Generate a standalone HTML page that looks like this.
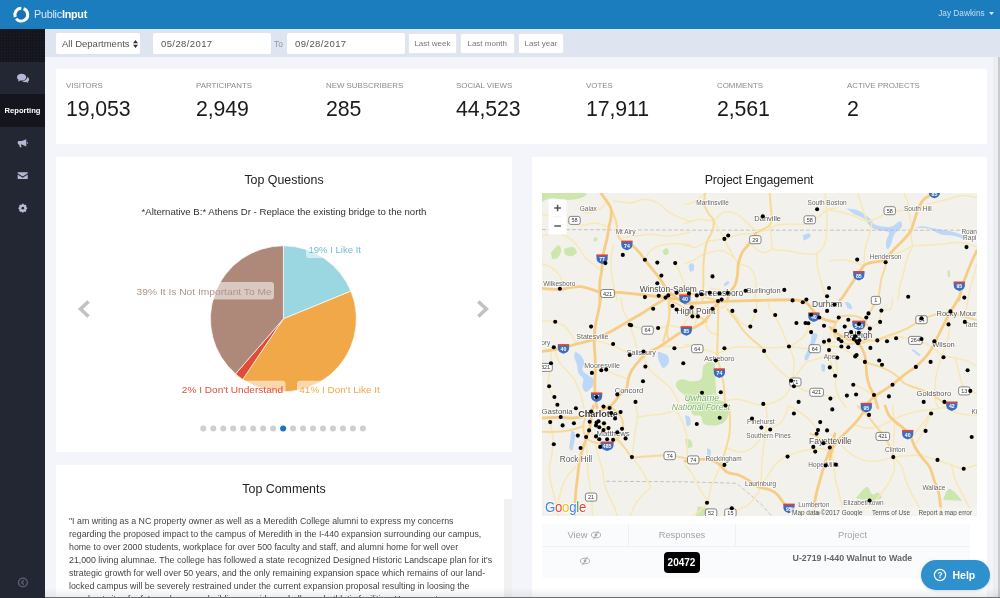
<!DOCTYPE html>
<html lang="en">
<head>
<meta charset="utf-8">
<title>PublicInput Reporting</title>
<style>
*{box-sizing:border-box;margin:0;padding:0}
html,body{width:1000px;height:598px;overflow:hidden}
body{position:relative;background:#f3f5fa;font-family:"Liberation Sans",sans-serif;color:#222}
.abs{position:absolute}
#topbar{left:0;top:0;width:1000px;height:29px;background:#1b7cbe}
#brand{left:34px;top:7.8px;color:#d6e9f6;font-size:10.8px;letter-spacing:-0.25px;white-space:nowrap}
#brand b{font-weight:bold;color:#fff}
#user{right:6.5px;top:8px;color:#bfdef5;font-size:8.3px;white-space:nowrap}
#sidebar{left:0;top:29px;width:45px;height:569px;background:#232633}
#sidetop{left:0;top:0;width:45px;height:33px;background:#15161d;background-image:radial-gradient(#1e202b 0.7px,transparent 0.9px);background-size:3px 3px}
#sideactive{left:0;top:64.5px;width:45px;height:33px;background:#15161d;color:#fff;font-size:7.6px;font-weight:bold;text-align:center;line-height:33px}
#filterbar{left:45px;top:29px;width:955px;height:28.2px;background:#dfe5f0}
.inp{background:#fff;border-radius:2px;height:21px;top:33px;font-size:9.5px;color:#555;line-height:21px;padding-left:6px;white-space:nowrap}
.date{letter-spacing:0.4px;padding-left:8px}
.btn{background:#fff;border-radius:2px;height:21px;top:33px;font-size:8px;color:#777;line-height:20px;text-align:center;white-space:nowrap;border:1px solid #e4e7ec}
.card{background:#fff}
.stat{top:12.5px;white-space:nowrap}
.stat .l{font-size:7.9px;color:#8a8a8a}
.stat .n{font-size:21.3px;color:#1a1a1a;margin-top:6.5px;letter-spacing:-0.1px}
.title{font-size:12.4px;color:#222;text-align:center;white-space:nowrap}
.sub{font-size:9.6px;color:#333;text-align:center;white-space:nowrap}
.cm{left:69px;top:514.6px;font-size:8.8px;line-height:13.1px;color:#444;white-space:nowrap}
.th{top:524px;height:22px;background:#fafbfc;color:#a3a3a3;font-size:9.3px;text-align:center;line-height:22px}
</style>
</head>
<body>
<div id="topbar" class="abs">
  <svg class="abs" style="left:12px;top:5.5px" width="18" height="18" viewBox="0 0 18 18">
    <circle cx="9.3" cy="8.7" r="6.4" fill="#1871b2"/>
    <path d="M11.6 2.75 A6.4 6.4 0 0 1 12.4 14.3 A6.4 6.4 0 0 1 4.2 12.6" fill="none" stroke="#fff" stroke-width="3"/>
    <path d="M3.3 10.9 A6.4 6.4 0 0 1 9.3 2.3" fill="none" stroke="#fff" stroke-width="3"/>
  </svg>
  <div id="brand" class="abs">Public<b>Input</b></div>
  <div id="user" class="abs">Jay Dawkins <svg width="5" height="3.2" viewBox="0 0 5 3.2" style="margin-left:1.5px;vertical-align:1px"><path d="M0 0 H5 L2.5 3.2 Z" fill="#cfe6f7"/></svg></div>
</div>
<div id="sidebar" class="abs">
  <div id="sidetop" class="abs"></div>
  <div id="sideactive" class="abs">Reporting</div>
  <svg class="abs" style="left:0;top:0" width="45" height="569" viewBox="0 29 45 569">
    <g fill="#b3b8d2">
      <!-- comments -->
      <path d="M17 77.2 c0 -2 2 -3.4 4.6 -3.4 s4.6 1.4 4.6 3.4 s-2 3.4 -4.6 3.4 c-0.5 0 -1 0 -1.4 -0.15 l-2.2 1.2 l0.6 -1.9 c-1 -0.6 -1.6 -1.5 -1.6 -2.55 Z"/>
      <path d="M27.3 77 c1.1 0.5 1.8 1.4 1.8 2.4 c0 0.9 -0.5 1.6 -1.3 2.1 l0.5 1.6 l-1.9 -1 c-0.4 0.1 -0.8 0.1 -1.2 0.1 c-1.3 0 -2.4 -0.4 -3.1 -1.1 c3 -0.1 5.2 -1.8 5.2 -4.1 Z"/>
      <!-- bullhorn -->
      <path transform="translate(22.6 143.3) scale(0.8) translate(-22.4 -143.3)" d="M27 138.2 v9.2 l-5.6 -2.6 h-1.2 l1 3.4 h-2.2 l-1 -3.4 h-0.6 c-0.6 0 -1 -0.5 -1 -1 v-2.4 c0 -0.6 0.4 -1 1 -1 h4 Z M27.8 141.4 c0.7 0.2 1.1 0.8 1.1 1.4 s-0.4 1.2 -1.1 1.4 Z"/>
      <!-- envelope -->
      <path transform="translate(22.7 175.6) scale(0.8) translate(-22.6 -175.55)" d="M16.3 171.3 h12.6 v1.3 l-6.3 4.2 l-6.3 -4.2 Z M16.3 174.1 l6.3 4.2 l6.3 -4.2 v5.7 h-12.6 Z"/>
    </g>
    <!-- cog -->
    <g transform="translate(22.8 208.2) scale(0.78)">
      <circle r="3.5" fill="none" stroke="#b9bed6" stroke-width="2.4"/>
      <g stroke="#b9bed6" stroke-width="2.1">
        <path d="M0 -5.6 V5.6 M-5.6 0 H5.6 M-4 -4 L4 4 M-4 4 L4 -4"/>
      </g>
      <circle r="1.7" fill="#232633"/>
    </g>
    <g transform="translate(22.9 582.5)" stroke="#5d6176" fill="none">
      <circle r="4.4" stroke-width="1.3"/>
      <path d="M1 -2.2 L-1.3 0 L1 2.2" stroke-width="1.3"/>
    </g>
  </svg>
</div>
<div id="filterbar" class="abs"></div>
<div class="abs inp" style="left:56px;width:84px">All Departments <svg width="5" height="8" viewBox="0 0 5 8" style="margin-left:1px;vertical-align:-0.5px"><path d="M2.5 0 L5 3.2 H0 Z M2.5 8 L5 4.8 H0 Z" fill="#333"/></svg></div>
<div class="abs inp date" style="left:153px;width:118px">05/28/2017</div>
<div class="abs" style="left:274px;top:38.5px;font-size:8.5px;color:#8d96a3">To</div>
<div class="abs inp date" style="left:287px;width:118px">09/28/2017</div>
<div class="abs btn" style="left:407.8px;width:49.2px">Last week</div>
<div class="abs btn" style="left:460px;width:54.5px">Last month</div>
<div class="abs btn" style="left:517.6px;width:46.6px">Last year</div>
<div class="abs" style="left:993px;top:57px;width:7px;height:541px;background:#eceef2"></div>
<div class="abs" style="left:997.6px;top:57px;width:2.4px;height:541px;background:#c9cacd"></div>

<div class="abs card" style="left:56px;top:68.5px;width:931px;height:75.5px">
  <div class="abs stat" style="left:10px"><div class="l">VISITORS</div><div class="n">19,053</div></div>
  <div class="abs stat" style="left:140px"><div class="l">PARTICIPANTS</div><div class="n">2,949</div></div>
  <div class="abs stat" style="left:270px"><div class="l">NEW SUBSCRIBERS</div><div class="n">285</div></div>
  <div class="abs stat" style="left:400px"><div class="l">SOCIAL VIEWS</div><div class="n">44,523</div></div>
  <div class="abs stat" style="left:530px"><div class="l">VOTES</div><div class="n">17,911</div></div>
  <div class="abs stat" style="left:661px"><div class="l">COMMENTS</div><div class="n">2,561</div></div>
  <div class="abs stat" style="left:791px"><div class="l">ACTIVE PROJECTS</div><div class="n">2</div></div>
</div>

<div class="abs card" style="left:56px;top:157px;width:456px;height:295px"></div>
<div class="abs title" style="left:56px;width:456px;top:173px">Top Questions</div>
<div class="abs sub" style="left:56px;width:456px;top:205.5px">*Alternative B:* Athens Dr - Replace the existing bridge to the north</div>
<svg class="abs" style="left:56px;top:157px" width="456" height="295" viewBox="56 157 456 295">
<path d="M283.4 318.8 L283.40 245.80 A73 73 0 0 1 350.95 291.13 Z" fill="#9bd7e1" stroke="#fff" stroke-width="0.7"/>
<path d="M283.4 318.8 L350.95 291.13 A73 73 0 0 1 242.73 379.42 Z" fill="#f0a848" stroke="#fff" stroke-width="0.7"/>
<path d="M283.4 318.8 L242.73 379.42 A73 73 0 0 1 235.52 373.90 Z" fill="#e24c36" stroke="#fff" stroke-width="0.7"/>
<path d="M283.4 318.8 L235.52 373.90 A73 73 0 0 1 283.40 245.80 Z" fill="#ae8878" stroke="#fff" stroke-width="0.7"/>
<rect x="306" y="240.4" width="58" height="17.6" rx="3" fill="#fff" fill-opacity="0.55"/>
<text x="308.5" y="252.9" font-size="9.8" fill="#6fbdd3" textLength="52.5" lengthAdjust="spacingAndGlyphs">19% I Like It</text>
<rect x="133" y="282" width="141" height="17.6" rx="3" fill="#fff" fill-opacity="0.55"/>
<text x="136.6" y="294.5" font-size="9.8" fill="#b09486" textLength="135.1" lengthAdjust="spacingAndGlyphs">39% It Is Not Important To Me</text>
<rect x="179" y="380.7" width="106.5" height="17.6" rx="3" fill="#fff" fill-opacity="0.55"/>
<text x="181.8" y="393.2" font-size="9.8" fill="#e0503c" textLength="101.2" lengthAdjust="spacingAndGlyphs">2% I Don't Understand</text>
<rect x="297" y="380.7" width="86" height="17.6" rx="3" fill="#fff" fill-opacity="0.55"/>
<text x="299.3" y="393.2" font-size="9.8" fill="#f0a848" textLength="80.6" lengthAdjust="spacingAndGlyphs">41% I Don't Like It</text>
<path d="M88.5 301.5 L80.5 309 L88.5 316.5" stroke="#c2c2c2" stroke-width="3.6" fill="none"/>
<path d="M478.3 301.5 L486.3 309 L478.3 316.5" stroke="#c2c2c2" stroke-width="3.6" fill="none"/>
<circle cx="203.3" cy="428.6" r="3" fill="#cfcfcf"/>
<circle cx="213.275" cy="428.6" r="3" fill="#cfcfcf"/>
<circle cx="223.25" cy="428.6" r="3" fill="#cfcfcf"/>
<circle cx="233.225" cy="428.6" r="3" fill="#cfcfcf"/>
<circle cx="243.2" cy="428.6" r="3" fill="#cfcfcf"/>
<circle cx="253.175" cy="428.6" r="3" fill="#cfcfcf"/>
<circle cx="263.15" cy="428.6" r="3" fill="#cfcfcf"/>
<circle cx="273.125" cy="428.6" r="3" fill="#cfcfcf"/>
<circle cx="283.1" cy="428.6" r="3" fill="#1b75bb"/>
<circle cx="293.075" cy="428.6" r="3" fill="#cfcfcf"/>
<circle cx="303.05" cy="428.6" r="3" fill="#cfcfcf"/>
<circle cx="313.025" cy="428.6" r="3" fill="#cfcfcf"/>
<circle cx="323" cy="428.6" r="3" fill="#cfcfcf"/>
<circle cx="332.975" cy="428.6" r="3" fill="#cfcfcf"/>
<circle cx="342.95" cy="428.6" r="3" fill="#cfcfcf"/>
<circle cx="352.925" cy="428.6" r="3" fill="#cfcfcf"/>
<circle cx="362.9" cy="428.6" r="3" fill="#cfcfcf"/>
</svg>

<div class="abs card" style="left:56px;top:465px;width:456px;height:133px"></div>
<div class="abs title" style="left:56px;width:456px;top:482px">Top Comments</div>
<div class="abs" style="left:504px;top:499px;width:8px;height:99px;background:#f1f1f1"></div>
<div class="abs cm">"I am writing as a NC property owner as well as a Meredith College alumni to express my concerns<br>regarding the proposed impact to the campus of Meredith in the I-440 expansion surrounding our campus,<br>home to over 2000 students, workplace for over 500 faculty and staff, and alumni home for well over<br>21,000 living alumnae. The college has followed a state recognized Designed Historic Landscape plan for it's<br>strategic growth for well over 50 years, and the only remaining expansion space which remains of our land-<br>locked campus will be severely restrained under the current expansion proposal resulting in loosing the<br>very best sites for future classroom buildings, residence halls, and athletic facilities. Your report</div>

<div class="abs card" style="left:531.5px;top:157px;width:455.5px;height:441px"></div>
<div class="abs title" style="left:531px;width:456px;top:173px;letter-spacing:-0.2px">Project Engagement</div>
<svg class="abs" style="left:542px;top:193px" width="435" height="323" viewBox="542 193 435 323">
<rect x="542" y="193" width="435" height="323" fill="#f3f1ec"/>
<path d="M703.1 365.9 C704.0 365.3 706.6 362.9 708.5 362.5 C710.4 362.1 713.2 361.6 714.3 363.7 C715.4 365.8 714.9 371.0 715.2 375.1 C715.5 379.2 715.6 384.5 716 388.4 C716.4 392.3 715.9 396.0 717.7 398.5 C719.5 401.0 725.0 401.4 726.9 403.5 C728.8 405.6 729.0 408.2 728.9 411 C728.8 413.8 728.0 417.8 726 420.2 C724.0 422.6 720.5 424.6 716.8 425.2 C713.1 425.8 706.4 425.4 703.8 423.9 C701.1 422.4 702.6 417.5 700.9 416 C699.2 414.5 695.3 416.4 693.4 414.9 C691.5 413.4 690.6 409.9 689.2 406.8 C687.8 403.7 686.9 398.8 685.1 396 C683.3 393.2 679.9 392.2 678.4 390.1 C676.9 388.0 675.3 385.2 675.9 383.4 C676.5 381.6 679.1 379.5 681.7 379.2 C684.4 378.9 688.6 381.4 691.8 381.4 C695.0 381.4 699.1 380.8 700.9 379.2 C702.7 377.6 702.3 372.9 702.6 371.7 Z" fill="#cde6ae"/>
<path d="M541.8 192.8 C548.7 192.8 576.5 192.0 583.3 192.8 C590.0 193.6 584.9 196.2 582.3 197.4 C579.7 198.6 572.8 199.9 567.6 200.1 C562.4 200.2 555.3 198.0 551 198.3 C546.7 198.6 543.3 201.4 541.8 202 Z" fill="#cde6ae"/>
<path d="M551 252.6 C552.2 251.4 556.7 245.5 558.4 245.2 C560.1 244.9 561.4 248.5 561.2 250.7 C561.1 252.8 559.0 256.7 557.5 258.1 C556.0 259.5 552.9 258.9 552 259 Z" fill="#cde6ae"/>
<path d="M563.9 248.9 C565.4 248.6 571.0 246.5 573.1 247.1 C575.2 247.7 577.1 251.1 576.8 252.6 C576.5 254.1 573.3 256.0 571.3 256.3 C569.3 256.6 565.9 254.7 564.8 254.4 Z" fill="#cde6ae"/>
<path d="M662.4 250.7 C663.2 250.2 665.9 247.5 667 248 C668.1 248.5 669.3 252.3 668.8 253.5 C668.3 254.7 665.0 255.0 664.2 255.3 Z" fill="#cde6ae"/>
<path d="M594.3 236.9 C594.8 237.1 597.1 237.4 597.4 238.2 C597.7 239.0 596.8 241.1 596.1 241.5 C595.4 241.9 593.9 240.8 593.4 240.6 Z" fill="#cde6ae"/>
<path d="M846.6 208.4 C848.4 208.7 853.9 208.7 857.6 210.2 C861.3 211.7 865.6 215.1 868.7 217.6 C871.8 220.1 872.3 223.5 876 225 C879.7 226.5 886.7 227.4 890.7 226.8 C894.7 226.2 898.0 221.3 899.9 221.3 C901.8 221.3 902.7 224.7 901.8 226.8 C900.9 229.0 896.2 231.1 894.4 234.2 C892.5 237.3 891.9 242.8 890.7 245.2 C889.5 247.6 887.9 249.5 887.1 248.9 C886.3 248.3 885.8 244.3 886.1 241.5 C886.4 238.7 890.0 234.1 888.9 232.3 C887.8 230.5 882.8 231.4 879.7 230.5 C876.6 229.6 873.0 228.7 870.5 226.8 C868.0 225.0 867.8 221.6 865 219.4 C862.2 217.2 855.8 214.8 853.9 213.9 Z" fill="#bcd7f7"/>
<path d="M914.7 227.7 C917.2 227.9 925.1 227.6 929.4 228.7 C933.7 229.8 936.1 233.0 940.4 234.2 C944.7 235.4 950.9 235.1 955.2 236 C959.5 236.9 964.7 239.7 966.2 239.7 C967.7 239.7 966.9 237.4 964.4 236 C961.9 234.6 956.1 232.6 951.5 231.4 C946.9 230.2 941.7 229.6 936.8 228.7 C931.9 227.8 924.5 226.4 922 225.9 Z" fill="#bcd7f7"/>
<path d="M802.8 235.1 C803.9 234.8 808.0 233.0 809.2 233.3 C810.4 233.6 811.1 235.7 810.2 236.9 C809.3 238.1 804.8 240.0 803.7 240.6 Z" fill="#bcd7f7"/>
<path d="M689.6 263.6 C690.3 263.8 693.2 263.3 693.8 264.5 C694.4 265.7 694.0 270.1 693.3 271 C692.6 271.9 690.2 270.2 689.6 270.1 Z" fill="#bcd7f7"/>
<path d="M575 351.4 C575.9 352.0 579.0 353.3 580.5 355.1 C582.0 356.9 583.9 359.9 584.2 362.4 C584.5 364.8 581.7 367.6 582.3 369.8 C582.9 372.0 586.0 373.8 587.9 375.3 C589.8 376.8 592.6 377.2 593.4 379 C594.2 380.8 593.7 384.2 592.5 386.3 C591.3 388.4 587.7 391.9 586 391.9 C584.3 391.9 582.8 388.4 582.3 386.3 C581.8 384.2 583.9 381.1 583.3 379 C582.7 376.9 579.8 375.9 578.7 373.5 C577.6 371.1 577.6 367.1 576.8 364.3 C576.0 361.5 574.5 358.1 574.1 356.9 Z" fill="#bcd7f7"/>
<path d="M657.8 351.4 C659.3 352.0 665.2 353.3 667 355.1 C668.8 356.9 669.4 360.3 668.8 362.4 C668.2 364.5 664.8 367.9 663.3 367.9 C661.8 367.9 660.5 364.2 659.6 362.4 C658.7 360.6 658.1 357.8 657.8 356.9 Z" fill="#bcd7f7"/>
<path d="M812 333 C812.9 333.3 817.2 332.7 817.5 334.8 C817.8 336.9 815.0 342.5 813.8 345.9 C812.6 349.3 811.4 352.7 810.2 355.1 C809.0 357.6 807.4 360.3 806.5 360.6 C805.6 360.9 804.0 359.3 804.6 356.9 C805.2 354.4 809.3 347.7 810.2 345.9 Z" fill="#bcd7f7"/>
<path d="M821.2 364.3 C821.8 364.4 824.4 364.0 824.9 365.2 C825.4 366.4 825.0 370.7 824.5 371.6 C824.0 372.5 822.1 370.9 821.6 370.7 Z" fill="#bcd7f7"/>
<path d="M911.9 350.5 C912.2 350.3 912.3 348.8 913.7 349.5 C915.1 350.2 919.4 353.6 920.2 354.7 C921.0 355.8 919.0 355.8 918.7 356 Z" fill="#bcd7f7"/>
<path d="M844.7 301.7 C845.6 302.0 849.0 302.3 850.2 303.5 C851.4 304.7 852.6 308.2 852.1 309 C851.6 309.8 848.3 308.2 847.5 308.1 Z" fill="#bcd7f7"/>
<path d="M571.3 429.9 C571.9 430.5 574.5 431.5 575 433.6 C575.5 435.8 574.6 440.0 574.1 442.8 C573.6 445.6 573.0 449.3 572.2 450.2 C571.4 451.1 569.7 450.1 569.4 448.3 C569.1 446.5 570.2 440.6 570.4 439.1 Z" fill="#bcd7f7"/>
<path d="M685 415.2 C685.8 415.5 688.7 415.5 689.6 417 C690.5 418.5 691.0 422.9 690.5 424.4 C690.0 425.9 687.4 425.9 686.8 426.2 Z" fill="#bcd7f7"/>
<path d="M707.1 448.3 C707.7 448.6 710.3 448.7 710.8 450.2 C711.2 451.7 710.4 456.6 709.8 457.5 C709.2 458.4 707.5 456.0 707.1 455.7 Z" fill="#bcd7f7"/>
<path d="M685 439.1 C685.9 439.3 689.3 438.9 690.5 440.1 C691.7 441.3 693.0 445.1 692.4 446.5 C691.8 447.9 687.7 448.0 686.8 448.3 Z" fill="#cde6ae"/>
<path d="M697.9 506.3 C699.7 506.8 708.0 507.5 708.9 509.1 C709.8 510.7 705.5 514.9 703.4 516.1 C701.2 517.3 697.2 516.1 696 516.1 Z" fill="#cde6ae"/>
<path d="M855.8 498 C857.6 496.2 864.0 487.6 866.8 487 C869.5 486.4 870.4 493.4 872.3 494.3 C874.1 495.2 876.4 491.9 877.9 492.5 C879.4 493.1 882.7 496.5 881.5 498 C880.3 499.5 872.3 501.1 870.5 501.7 Z" fill="#cde6ae"/>
<path d="M943.2 499.9 C944.3 498.0 946.4 488.6 949.6 488.8 C952.8 489.0 960.4 498.8 962.5 500.8 Z" fill="#cde6ae"/>
<path d="M947.4 271 C947.8 270.9 949.2 269.7 949.6 270.6 C950.0 271.5 950.3 275.5 950 276.5 C949.7 277.5 948.2 276.5 947.8 276.5 Z" fill="#cde6ae"/>
<path d="M688.6 265.6 C689.3 265.2 692.0 262.8 692.8 263.5 C693.6 264.2 694.0 268.4 693.5 269.8 C693.0 271.2 690.6 271.5 690 271.9 Z" fill="#bcd7f7"/>
<path d="M723.6 284.5 C724.3 283.9 726.9 281.2 727.8 281 C728.7 280.8 729.7 282.2 729.2 283.1 C728.7 284.0 725.7 286.0 725 286.6 Z" fill="#bcd7f7"/>
<path d="M542 229.5 L700 230.2 L977 230.2" stroke="#b9b9b9" stroke-width="0.8" stroke-dasharray="4 2" fill="none"/>
<path d="M606 481.3 L685 481.8 L736.5 483.3 L747.6 492.5 L762.3 505.4 L771.5 516" stroke="#b9b9b9" stroke-width="0.8" stroke-dasharray="4 2" fill="none"/>
<path d="M613.6 245.2 C613.1 247.6 611.2 255.3 610.9 259.9 C610.6 264.5 611.3 268.5 611.8 272.8 C612.2 277.1 612.7 281.1 613.6 285.7 C614.5 290.2 616.7 297.7 617.3 300.1" stroke="#f7e8b6" stroke-width="1.5" fill="none" stroke-linecap="round" stroke-linejoin="round"/>
<path d="M541.8 236 C543.9 235.6 550.7 233.3 554.7 233.3 C558.7 233.3 562.1 234.0 565.8 236 C569.5 238.0 573.4 241.5 576.8 245.2 C580.2 248.9 582.9 254.7 586 258.1 C589.1 261.5 592.6 263.4 595.2 265.5 C597.8 267.6 600.6 270.1 601.7 271" stroke="#f7e8b6" stroke-width="1.5" fill="none" stroke-linecap="round" stroke-linejoin="round"/>
<path d="M578.7 208.4 C580.2 209.2 584.2 213.0 587.9 213 C591.6 213.0 597.3 210.7 600.7 208.4 C604.1 206.1 606.9 200.7 608.1 199.2" stroke="#f7e8b6" stroke-width="1.5" fill="none" stroke-linecap="round" stroke-linejoin="round"/>
<path d="M541.8 213.9 C543.9 214.5 550.4 216.4 554.7 217.6 C559.0 218.8 563.0 220.1 567.6 221.3 C572.2 222.5 577.7 224.7 582.3 225 C586.9 225.3 590.9 222.8 595.2 223.1 C599.5 223.4 606.0 226.2 608.1 226.8" stroke="#f7e8b6" stroke-width="1.5" fill="none" stroke-linecap="round" stroke-linejoin="round"/>
<path d="M613.6 201 C616.7 201.3 627.1 203.2 632 202.9 C636.9 202.6 638.8 199.2 643.1 199.2 C647.4 199.2 653.5 200.8 657.8 202.9 C662.1 205.1 665.1 209.7 668.8 212.1 C672.5 214.5 676.4 216.1 679.9 217.6 C683.4 219.1 688.3 220.7 690 221.3" stroke="#f7e8b6" stroke-width="1.5" fill="none" stroke-linecap="round" stroke-linejoin="round"/>
<path d="M541.8 263.6 C543.3 264.2 547.9 265.2 551 267.3 C554.1 269.4 558.1 272.8 560.2 276.5 C562.4 280.2 563.3 287.2 563.9 289.4" stroke="#f7e8b6" stroke-width="1.5" fill="none" stroke-linecap="round" stroke-linejoin="round"/>
<path d="M644.9 259.9 C645.8 258.4 647.6 253.1 650.4 250.7 C653.2 248.2 657.2 246.4 661.5 245.2 C665.8 244.0 671.5 243.4 676.2 243.4 C681.0 243.4 687.7 244.9 690 245.2" stroke="#f7e8b6" stroke-width="1.5" fill="none" stroke-linecap="round" stroke-linejoin="round"/>
<path d="M675.3 262.7 C676.1 264.4 678.2 269.0 679.9 272.8 C681.6 276.6 683.7 282.0 685.4 285.7 C687.1 289.4 689.2 293.4 690 294.9" stroke="#f7e8b6" stroke-width="1.5" fill="none" stroke-linecap="round" stroke-linejoin="round"/>
<path d="M619.1 237.9 C621.9 237.6 630.5 236.6 635.7 236 C640.9 235.4 644.9 234.2 650.4 234.2 C655.9 234.2 662.2 236.3 668.8 236 C675.4 235.7 686.5 232.9 690 232.3" stroke="#f7e8b6" stroke-width="1.5" fill="none" stroke-linecap="round" stroke-linejoin="round"/>
<path d="M685 223.1 C687.5 222.5 695.0 219.8 699.7 219.4 C704.5 219.0 709.5 221.6 713.5 220.4 C717.5 219.2 719.9 213.2 723.7 212.1 C727.5 211.0 732.5 212.1 736.5 213.9 C740.5 215.7 744.5 220.5 747.6 223.1 C750.7 225.7 751.8 228.4 754.9 229.6 C758.0 230.8 762.3 231.3 766 230.5 C769.7 229.7 773.0 226.1 777 225 C781.0 223.9 785.3 224.2 789.9 224.1 C794.5 223.9 800.0 225.2 804.6 224.1 C809.2 223.0 813.8 219.9 817.5 217.6 C821.2 215.3 823.8 211.7 826.7 210.2 C829.6 208.7 833.6 208.7 835 208.4" stroke="#f7e8b6" stroke-width="1.5" fill="none" stroke-linecap="round" stroke-linejoin="round"/>
<path d="M713.5 220.4 C714.9 222.7 719.5 230.1 721.8 234.2 C724.1 238.3 725.1 241.2 727.3 245.2 C729.4 249.2 732.9 255.0 734.7 258.1 C736.6 261.2 737.8 262.7 738.4 263.6" stroke="#f7e8b6" stroke-width="1.5" fill="none" stroke-linecap="round" stroke-linejoin="round"/>
<path d="M685 245.2 C686.8 245.5 692.3 247.7 696 247.1 C699.7 246.5 702.3 242.9 707.1 241.5 C711.9 240.1 719.1 240.0 724.6 238.8 C730.1 237.6 735.0 235.1 740.2 234.2 C745.4 233.3 753.3 233.5 755.9 233.3" stroke="#f7e8b6" stroke-width="1.5" fill="none" stroke-linecap="round" stroke-linejoin="round"/>
<path d="M769.7 225 C770.0 227.2 770.9 233.9 771.5 237.9 C772.1 241.9 770.5 246.8 773.3 248.9 C776.1 251.0 783.2 249.9 788.1 250.7 C793.0 251.5 798.0 253.0 802.8 253.5 C807.5 254.0 812.9 255.2 816.6 253.5 C820.3 251.8 823.2 247.8 824.9 243.4 C826.6 239.0 826.4 232.3 826.7 226.8 C827.0 221.3 827.0 215.9 826.7 210.2 C826.4 204.5 825.2 195.7 824.9 192.8" stroke="#f7e8b6" stroke-width="1.5" fill="none" stroke-linecap="round" stroke-linejoin="round"/>
<path d="M816.6 253.5 C816.8 255.8 816.7 262.6 817.5 267.3 C818.3 272.1 819.7 276.5 821.2 282 C822.7 287.5 825.8 297.1 826.7 300.1" stroke="#f7e8b6" stroke-width="1.5" fill="none" stroke-linecap="round" stroke-linejoin="round"/>
<path d="M738.4 263.6 C740.2 264.2 746.6 265.2 749.4 267.3 C752.1 269.4 753.8 272.8 754.9 276.5 C756.0 280.2 755.9 285.5 755.9 289.4 C755.9 293.3 755.1 298.3 754.9 300.1" stroke="#f7e8b6" stroke-width="1.5" fill="none" stroke-linecap="round" stroke-linejoin="round"/>
<path d="M685 263.6 C686.5 263.0 691.1 261.4 694.2 259.9 C697.3 258.4 698.8 255.9 703.4 254.4 C708.0 252.9 716.6 250.1 721.8 250.7 C727.0 251.3 732.6 256.9 734.7 258.1" stroke="#f7e8b6" stroke-width="1.5" fill="none" stroke-linecap="round" stroke-linejoin="round"/>
<path d="M749.4 243.4 C751.5 244.9 758.3 251.7 762.3 252.6 C766.3 253.5 771.5 249.5 773.3 248.9" stroke="#f7e8b6" stroke-width="1.5" fill="none" stroke-linecap="round" stroke-linejoin="round"/>
<path d="M705.2 192.8 C703.7 194.2 699.4 199.0 696 201 C692.6 203.0 686.8 204.1 685 204.7" stroke="#f7e8b6" stroke-width="1.5" fill="none" stroke-linecap="round" stroke-linejoin="round"/>
<path d="M830 210.2 C831.8 210.5 837.0 211.2 841 212.1 C845.0 213.0 849.6 214.3 853.9 215.8 C858.2 217.3 862.8 221.0 866.8 221.3 C870.8 221.6 874.2 219.1 877.9 217.6 C881.6 216.1 884.6 213.3 888.9 212.1 C893.2 210.9 898.7 210.8 903.6 210.2 C908.5 209.6 913.4 209.6 918.3 208.4 C923.2 207.2 928.2 204.4 933.1 202.9 C938.0 201.4 942.9 200.4 947.8 199.2 C952.7 198.0 957.7 195.8 962.5 195.5 C967.3 195.2 974.3 197.1 976.7 197.4" stroke="#f7e8b6" stroke-width="1.5" fill="none" stroke-linecap="round" stroke-linejoin="round"/>
<path d="M887.1 257.2 C889.9 256.1 899.3 252.5 903.6 250.7 C907.9 248.8 909.1 247.0 912.8 246.1 C916.5 245.2 921.1 245.5 925.7 245.2 C930.3 244.9 935.5 244.8 940.4 244.3 C945.3 243.9 950.9 242.7 955.2 242.5 C959.5 242.3 962.6 242.6 966.2 243.4 C969.8 244.2 975.0 246.5 976.7 247.1" stroke="#f7e8b6" stroke-width="1.5" fill="none" stroke-linecap="round" stroke-linejoin="round"/>
<path d="M912.8 246.1 C912.5 244.4 911.3 239.8 911 236 C910.7 232.2 911.3 226.8 911 223.1 C910.7 219.4 909.7 217.6 909.1 213.9 C908.5 210.2 908.2 204.5 907.3 201 C906.4 197.5 904.2 194.2 903.6 192.8" stroke="#f7e8b6" stroke-width="1.5" fill="none" stroke-linecap="round" stroke-linejoin="round"/>
<path d="M912.8 246.1 C911.9 248.1 908.8 253.7 907.3 258.1 C905.8 262.6 904.8 268.2 903.6 272.8 C902.4 277.4 900.8 281.1 899.9 285.7 C899.0 290.2 898.4 297.7 898.1 300.1" stroke="#f7e8b6" stroke-width="1.5" fill="none" stroke-linecap="round" stroke-linejoin="round"/>
<path d="M872.3 221.3 C871.8 223.5 870.8 229.6 869.6 234.2 C868.4 238.8 865.9 243.7 865 248.9 C864.1 254.1 864.2 262.7 864.1 265.5" stroke="#f7e8b6" stroke-width="1.5" fill="none" stroke-linecap="round" stroke-linejoin="round"/>
<path d="M830 260.9 C832.5 260.7 840.1 259.4 844.7 259.9 C849.3 260.3 854.4 262.7 857.6 263.6 C860.8 264.5 863.0 265.2 864.1 265.5" stroke="#f7e8b6" stroke-width="1.5" fill="none" stroke-linecap="round" stroke-linejoin="round"/>
<path d="M976.7 263.6 C976.2 265.8 974.7 272.2 973.6 276.5 C972.5 280.8 970.8 285.5 969.9 289.4 C969.0 293.3 968.3 298.3 968 300.1" stroke="#f7e8b6" stroke-width="1.5" fill="none" stroke-linecap="round" stroke-linejoin="round"/>
<path d="M857.6 192.8 C858.2 194.8 859.8 199.9 861.3 204.7 C862.8 209.4 865.9 218.5 866.8 221.3" stroke="#f7e8b6" stroke-width="1.5" fill="none" stroke-linecap="round" stroke-linejoin="round"/>
<path d="M593.4 339.4 C595.2 340.0 601.0 342.0 604.4 343.1 C607.8 344.2 610.5 344.7 613.6 345.9 C616.7 347.1 619.7 349.3 622.8 350.5 C625.9 351.7 628.9 352.4 632 353.2 C635.1 354.0 639.7 354.8 641.2 355.1" stroke="#f7e8b6" stroke-width="1.5" fill="none" stroke-linecap="round" stroke-linejoin="round"/>
<path d="M621 298 C621.3 299.8 621.6 305.3 622.8 309 C624.0 312.7 626.8 316.4 628.3 320.1 C629.8 323.8 630.8 327.1 632 331.1 C633.2 335.1 634.5 340.0 635.7 344 C636.9 348.0 638.8 353.2 639.4 355.1" stroke="#f7e8b6" stroke-width="1.5" fill="none" stroke-linecap="round" stroke-linejoin="round"/>
<path d="M630.2 325.6 C632.4 326.1 638.5 327.9 643.1 328.4 C647.7 328.9 653.5 328.9 657.8 328.4 C662.1 327.9 665.1 325.8 668.8 325.6 C672.5 325.4 676.4 327.4 679.9 327.4 C683.4 327.4 688.3 325.9 690 325.6" stroke="#f7e8b6" stroke-width="1.5" fill="none" stroke-linecap="round" stroke-linejoin="round"/>
<path d="M541.8 320.1 C543.9 320.4 551.0 321.0 554.7 321.9 C558.4 322.8 561.1 323.5 563.9 325.6 C566.7 327.8 569.1 331.7 571.3 334.8 C573.4 337.9 575.9 342.5 576.8 344" stroke="#f7e8b6" stroke-width="1.5" fill="none" stroke-linecap="round" stroke-linejoin="round"/>
<path d="M551 351.4 C551.0 353.2 551.3 358.4 551 362.4 C550.7 366.4 549.7 371.3 549.2 375.3 C548.8 379.3 547.5 382.6 548.3 386.3 C549.1 390.0 552.3 394.3 553.8 397.4 C555.3 400.5 556.9 403.6 557.5 404.8" stroke="#f7e8b6" stroke-width="1.5" fill="none" stroke-linecap="round" stroke-linejoin="round"/>
<path d="M554.7 349.5 C555.3 351.4 556.2 356.9 558.4 360.6 C560.5 364.3 564.8 368.2 567.6 371.6 C570.4 375.0 572.9 377.1 575 380.8 C577.1 384.5 579.0 389.1 580.5 393.7 C582.0 398.2 583.6 405.7 584.2 408.1" stroke="#f7e8b6" stroke-width="1.5" fill="none" stroke-linecap="round" stroke-linejoin="round"/>
<path d="M643.1 355.1 C644.0 357.2 646.2 364.2 648.6 367.9 C651.0 371.6 654.4 374.0 657.8 377.1 C661.2 380.2 665.7 382.9 668.8 386.3 C671.9 389.7 674.4 393.8 676.2 397.4 C678.1 401.0 679.3 406.3 679.9 408.1" stroke="#f7e8b6" stroke-width="1.5" fill="none" stroke-linecap="round" stroke-linejoin="round"/>
<path d="M657.8 347.7 C659.6 347.4 665.1 345.9 668.8 345.9 C672.5 345.9 676.4 347.7 679.9 347.7 C683.4 347.7 688.3 346.2 690 345.9" stroke="#f7e8b6" stroke-width="1.5" fill="none" stroke-linecap="round" stroke-linejoin="round"/>
<path d="M594.3 369.8 C596.0 369.8 600.6 368.9 604.4 369.8 C608.2 370.7 613.3 373.8 617.3 375.3 C621.3 376.8 626.5 378.4 628.3 379" stroke="#f7e8b6" stroke-width="1.5" fill="none" stroke-linecap="round" stroke-linejoin="round"/>
<path d="M762.3 347.7 C762.9 348.9 764.2 352.3 766 355.1 C767.8 357.9 770.8 361.6 773.3 364.3 C775.8 367.1 777.9 369.2 780.7 371.6 C783.5 374.1 787.5 376.9 789.9 379 C792.3 381.1 793.2 382.7 795.4 384.5 C797.5 386.3 799.1 388.5 802.8 390 C806.5 391.5 812.1 392.5 817.5 393.7 C822.9 394.9 832.1 396.8 835 397.4" stroke="#f7e8b6" stroke-width="1.5" fill="none" stroke-linecap="round" stroke-linejoin="round"/>
<path d="M685 344 C687.1 344.6 693.6 346.5 697.9 347.7 C702.2 348.9 707.4 350.5 710.8 351.4 C714.2 352.3 714.7 353.8 718.1 353.2 C721.5 352.6 726.7 348.8 731 347.7 C735.3 346.6 738.7 346.8 743.9 346.8 C749.1 346.8 756.8 347.6 762.3 347.7 C767.8 347.8 772.5 347.8 777 347.7 C781.5 347.6 785.3 346.8 789 346.8 C792.7 346.8 795.3 347.4 799.1 347.7 C802.9 348.0 807.7 349.2 812 348.6 C816.3 348.0 821.1 345.1 824.9 344 C828.7 342.9 833.3 342.5 835 342.2" stroke="#f7e8b6" stroke-width="1.5" fill="none" stroke-linecap="round" stroke-linejoin="round"/>
<path d="M789 346.8 C789.8 348.8 792.8 354.6 793.6 358.7 C794.4 362.8 793.8 368.2 793.6 371.6 C793.5 375.0 792.9 377.8 792.7 379" stroke="#f7e8b6" stroke-width="1.5" fill="none" stroke-linecap="round" stroke-linejoin="round"/>
<path d="M792.7 379 C793.8 377.8 796.8 374.4 799.1 371.6 C801.4 368.8 803.4 364.5 806.5 362.4 C809.6 360.2 813.8 359.9 817.5 358.7 C821.2 357.5 825.7 356.0 828.6 355.1 C831.5 354.2 833.9 353.5 835 353.2" stroke="#f7e8b6" stroke-width="1.5" fill="none" stroke-linecap="round" stroke-linejoin="round"/>
<path d="M792.7 379 C791.9 381.1 790.1 388.5 788.1 391.9 C786.1 395.3 783.8 397.2 780.7 399.2 C777.6 401.2 773.4 402.9 769.7 403.8 C766.0 404.7 762.6 405.2 758.6 404.8 C754.6 404.4 749.4 402.0 745.7 401.1 C742.0 400.2 740.0 399.2 736.5 399.2 C733.0 399.2 726.6 400.8 724.6 401.1" stroke="#f7e8b6" stroke-width="1.5" fill="none" stroke-linecap="round" stroke-linejoin="round"/>
<path d="M789 346.8 C790.7 345.7 796.2 342.6 799.1 340.3 C802.0 338.0 804.6 335.8 806.5 333 C808.4 330.2 809.0 326.6 810.2 323.8 C811.4 321.0 813.2 317.6 813.8 316.4" stroke="#f7e8b6" stroke-width="1.5" fill="none" stroke-linecap="round" stroke-linejoin="round"/>
<path d="M767.8 300.2 C768.1 301.7 768.5 306.3 769.7 309 C770.9 311.7 773.4 313.3 775.2 316.4 C777.0 319.5 779.0 323.7 780.7 327.4 C782.4 331.1 783.9 335.3 785.3 338.5 C786.7 341.7 788.4 345.4 789 346.8" stroke="#f7e8b6" stroke-width="1.5" fill="none" stroke-linecap="round" stroke-linejoin="round"/>
<path d="M756.8 300.8 C756.6 302.5 757.1 306.8 755.9 310.9 C754.7 315.0 752.0 323.8 749.4 325.6 C746.8 327.4 743.0 324.2 740.2 321.9 C737.5 319.6 734.1 313.5 732.9 311.8" stroke="#f7e8b6" stroke-width="1.5" fill="none" stroke-linecap="round" stroke-linejoin="round"/>
<path d="M685 316.4 C687.1 316.4 694.5 315.5 697.9 316.4 C701.3 317.3 703.4 319.4 705.2 321.9 C707.0 324.3 706.8 329.0 708.9 331.1 C711.0 333.2 716.3 334.2 717.8 334.8" stroke="#f7e8b6" stroke-width="1.5" fill="none" stroke-linecap="round" stroke-linejoin="round"/>
<path d="M835 321.9 C834.2 324.0 831.5 329.9 830.4 334.8 C829.3 339.7 828.3 345.9 828.6 351.4 C828.9 356.9 831.1 363.9 832.2 367.9 C833.3 371.9 834.5 374.1 835 375.3" stroke="#f7e8b6" stroke-width="1.5" fill="none" stroke-linecap="round" stroke-linejoin="round"/>
<path d="M692.4 307.2 C693.0 309.0 696.0 314.5 696 318.2 C696.0 321.9 694.2 326.8 692.4 329.3 C690.6 331.8 686.2 332.4 685 333" stroke="#f7e8b6" stroke-width="1.5" fill="none" stroke-linecap="round" stroke-linejoin="round"/>
<path d="M876 340.3 C878.1 339.9 884.9 338.2 888.9 337.6 C892.9 337.0 896.2 336.4 899.9 336.7 C903.6 337.0 907.3 338.5 911 339.4 C914.7 340.3 918.3 340.8 922 342.2 C925.7 343.6 929.7 345.5 933.1 347.7 C936.5 349.9 938.6 353.4 942.3 355.1 C946.0 356.8 951.2 356.9 955.2 357.8 C959.2 358.7 962.6 359.2 966.2 360.6 C969.8 362.0 975.0 365.2 976.7 366.1" stroke="#f7e8b6" stroke-width="1.5" fill="none" stroke-linecap="round" stroke-linejoin="round"/>
<path d="M942.3 355.1 C941.7 356.9 939.7 362.4 938.6 366.1 C937.5 369.8 936.4 373.1 935.8 377.1 C935.2 381.1 934.9 386.0 934.9 390 C934.9 394.0 935.2 398.1 935.8 401.1 C936.4 404.1 938.1 406.9 938.6 408.1" stroke="#f7e8b6" stroke-width="1.5" fill="none" stroke-linecap="round" stroke-linejoin="round"/>
<path d="M947.8 316.4 C948.1 317.9 949.6 321.9 949.6 325.6 C949.6 329.3 948.7 334.5 947.8 338.5 C946.9 342.5 945.0 346.7 944.1 349.5 C943.2 352.3 942.6 354.2 942.3 355.1" stroke="#f7e8b6" stroke-width="1.5" fill="none" stroke-linecap="round" stroke-linejoin="round"/>
<path d="M835.5 358.7 C835.8 360.9 837.4 367.3 837.4 371.6 C837.4 375.9 835.2 380.2 835.5 384.5 C835.8 388.8 837.4 393.5 839.2 397.4 C841.1 401.3 845.4 406.3 846.6 408.1" stroke="#f7e8b6" stroke-width="1.5" fill="none" stroke-linecap="round" stroke-linejoin="round"/>
<path d="M853.9 384.5 C855.8 385.4 861.6 388.1 865 390 C868.4 391.9 872.7 394.7 874.2 395.6" stroke="#f7e8b6" stroke-width="1.5" fill="none" stroke-linecap="round" stroke-linejoin="round"/>
<path d="M962.5 316.4 C963.1 315.2 965.3 312.1 966.2 309 C967.1 305.9 967.7 299.8 968 298" stroke="#f7e8b6" stroke-width="1.5" fill="none" stroke-linecap="round" stroke-linejoin="round"/>
<path d="M955.2 357.8 C955.8 360.1 957.6 367.2 958.8 371.6 C960.0 376.1 960.6 381.3 962.5 384.5 C964.4 387.7 967.5 389.5 969.9 391 C972.3 392.5 975.6 393.2 976.7 393.7" stroke="#f7e8b6" stroke-width="1.5" fill="none" stroke-linecap="round" stroke-linejoin="round"/>
<path d="M830 345.9 C831.8 346.2 837.6 346.5 841 347.7 C844.4 348.9 847.9 351.8 850.2 353.2 C852.5 354.6 852.3 354.5 854.8 356 C857.3 357.5 863.3 361.1 865 362.1" stroke="#f7e8b6" stroke-width="1.5" fill="none" stroke-linecap="round" stroke-linejoin="round"/>
<path d="M892.6 298 C892.3 299.8 892.6 306.9 890.7 309 C888.9 311.1 883.4 308.4 881.5 310.5 C879.6 312.6 881.1 318.9 879.1 321.9 C877.1 324.9 871.2 327.3 869.6 328.4" stroke="#f7e8b6" stroke-width="1.5" fill="none" stroke-linecap="round" stroke-linejoin="round"/>
<path d="M632 457.2 C633.2 458.8 637.1 463.3 639.4 466.7 C641.7 470.1 644.0 474.4 645.8 477.8 C647.6 481.2 650.8 484.2 650.4 487 C650.0 489.8 645.5 491.5 643.1 494.3 C640.7 497.1 637.9 500.0 635.7 503.6 C633.6 507.2 631.1 514.0 630.2 516.1" stroke="#f7e8b6" stroke-width="1.5" fill="none" stroke-linecap="round" stroke-linejoin="round"/>
<path d="M632 457.2 C632.3 454.8 633.3 447.6 633.9 442.8 C634.5 438.0 635.1 432.4 635.7 428.1 C636.3 423.8 637.6 420.7 637.6 417 C637.6 413.3 636.0 407.8 635.7 406" stroke="#f7e8b6" stroke-width="1.5" fill="none" stroke-linecap="round" stroke-linejoin="round"/>
<path d="M637.6 417 C639.7 416.7 645.8 415.8 650.4 415.2 C655.0 414.6 660.9 414.3 665.2 413.4 C669.5 412.5 674.4 410.3 676.2 409.7" stroke="#f7e8b6" stroke-width="1.5" fill="none" stroke-linecap="round" stroke-linejoin="round"/>
<path d="M589.7 428.1 C590.6 430.6 593.7 437.9 595.2 442.8 C596.7 447.7 597.7 452.9 598.9 457.5 C600.1 462.1 601.7 466.1 602.6 470.4 C603.5 474.7 603.5 479.3 604.4 483.3 C605.3 487.3 606.6 490.6 608.1 494.3 C609.6 498.0 612.1 501.8 613.6 505.4 C615.1 509.0 616.7 514.3 617.3 516.1" stroke="#f7e8b6" stroke-width="1.5" fill="none" stroke-linecap="round" stroke-linejoin="round"/>
<path d="M586 439.1 C586.1 441.6 586.6 448.7 586.9 453.9 C587.2 459.1 587.4 465.2 587.9 470.4 C588.4 475.6 589.1 480.5 589.7 485.1 C590.3 489.7 591.0 492.8 591.5 498 C592.0 503.2 592.3 513.1 592.5 516.1" stroke="#f7e8b6" stroke-width="1.5" fill="none" stroke-linecap="round" stroke-linejoin="round"/>
<path d="M551 424.4 C551.3 426.8 552.7 434.2 552.9 439.1 C553.1 444.0 552.6 449.0 552 453.9 C551.4 458.8 549.4 463.7 549.2 468.6 C549.0 473.5 550.1 478.4 551 483.3 C551.9 488.2 553.5 492.5 554.7 498 C555.9 503.5 557.8 513.1 558.4 516.1" stroke="#f7e8b6" stroke-width="1.5" fill="none" stroke-linecap="round" stroke-linejoin="round"/>
<path d="M575.9 466.7 C574.5 468.2 569.9 472.5 567.6 475.9 C565.3 479.3 563.6 482.7 562.1 487 C560.6 491.3 559.0 499.2 558.4 501.7" stroke="#f7e8b6" stroke-width="1.5" fill="none" stroke-linecap="round" stroke-linejoin="round"/>
<path d="M676.2 409.7 C677.4 412.1 681.8 419.5 683.6 424.4 C685.4 429.3 686.6 433.9 687.2 439.1 C687.8 444.3 687.2 452.9 687.2 455.7" stroke="#f7e8b6" stroke-width="1.5" fill="none" stroke-linecap="round" stroke-linejoin="round"/>
<path d="M766 406 C766.1 407.8 766.9 413.0 766.9 417 C766.9 421.0 766.5 425.6 766 429.9 C765.5 434.2 764.7 438.2 764.1 442.8 C763.5 447.4 762.8 452.6 762.3 457.5 C761.8 462.4 761.7 467.4 761.4 472.3 C761.1 477.2 761.6 482.7 760.5 487 C759.4 491.3 757.4 494.8 754.9 498 C752.4 501.2 749.1 504.2 745.7 506.3 C742.3 508.4 738.7 509.3 734.7 510.9 C730.7 512.5 723.9 515.2 721.8 516.1" stroke="#f7e8b6" stroke-width="1.5" fill="none" stroke-linecap="round" stroke-linejoin="round"/>
<path d="M760.5 487 C761.7 485.1 765.3 479.6 767.8 475.9 C770.2 472.2 772.4 468.0 775.2 464.9 C778.0 461.8 781.0 459.5 784.4 457.5 C787.8 455.5 791.7 454.1 795.4 452.9 C799.1 451.7 802.8 451.0 806.5 450.2 C810.2 449.4 815.7 448.6 817.5 448.3" stroke="#f7e8b6" stroke-width="1.5" fill="none" stroke-linecap="round" stroke-linejoin="round"/>
<path d="M727.3 448.3 C729.4 448.9 736.2 452.0 740.2 452 C744.2 452.0 748.2 450.1 751.3 448.3 C754.4 446.5 756.5 443.4 758.6 441 C760.7 438.6 762.0 435.8 764.1 433.6 C766.2 431.5 768.7 429.9 771.5 428.1 C774.3 426.3 778.2 425.1 780.7 422.6 C783.2 420.2 785.0 416.2 786.2 413.4 C787.4 410.6 787.8 407.2 788.1 406" stroke="#f7e8b6" stroke-width="1.5" fill="none" stroke-linecap="round" stroke-linejoin="round"/>
<path d="M720 464.9 C719.4 466.7 717.8 472.2 716.3 475.9 C714.8 479.6 712.2 482.7 710.8 487 C709.4 491.3 709.5 498.0 708 501.7 C706.5 505.4 704.2 506.7 701.6 509.1 C699.0 511.5 693.9 514.9 692.4 516.1" stroke="#f7e8b6" stroke-width="1.5" fill="none" stroke-linecap="round" stroke-linejoin="round"/>
<path d="M685 464.9 C686.2 466.4 689.9 470.1 692.4 474.1 C694.9 478.1 697.1 484.2 699.7 488.8 C702.3 493.4 706.6 499.6 708 501.7" stroke="#f7e8b6" stroke-width="1.5" fill="none" stroke-linecap="round" stroke-linejoin="round"/>
<path d="M788.1 406 C789.9 406.9 795.4 409.1 799.1 411.5 C802.8 413.9 807.1 417.6 810.2 420.7 C813.3 423.8 816.3 428.4 817.5 429.9" stroke="#f7e8b6" stroke-width="1.5" fill="none" stroke-linecap="round" stroke-linejoin="round"/>
<path d="M817.5 448.3 C819.6 448.6 827.5 449.6 830.4 450.2 C833.3 450.8 834.2 451.7 835 452" stroke="#f7e8b6" stroke-width="1.5" fill="none" stroke-linecap="round" stroke-linejoin="round"/>
<path d="M788.1 509.1 C789.9 509.6 794.8 510.6 799.1 511.8 C803.4 513.0 811.3 515.4 813.8 516.1" stroke="#f7e8b6" stroke-width="1.5" fill="none" stroke-linecap="round" stroke-linejoin="round"/>
<path d="M911 437.3 C911.9 436.4 914.7 434.0 916.5 431.8 C918.3 429.6 920.1 426.9 922 424.4 C923.9 421.9 926.1 419.4 927.6 417 C929.1 414.6 930.6 410.9 931.2 409.7" stroke="#f7e8b6" stroke-width="1.5" fill="none" stroke-linecap="round" stroke-linejoin="round"/>
<path d="M853.9 424.4 C856.0 425.0 862.5 427.8 866.8 428.1 C871.1 428.4 875.7 427.4 879.7 426.2 C883.7 425.0 886.7 422.5 890.7 420.7 C894.7 418.9 899.3 416.7 903.6 415.2 C907.9 413.7 911.9 412.4 916.5 411.5 C921.1 410.6 926.6 410.3 931.2 409.7 C935.8 409.1 939.5 407.2 944.1 407.8 C948.7 408.4 953.4 412.2 958.8 413.4 C964.2 414.6 973.7 414.9 976.7 415.2" stroke="#f7e8b6" stroke-width="1.5" fill="none" stroke-linecap="round" stroke-linejoin="round"/>
<path d="M830 433.6 C831.5 435.1 836.1 439.7 839.2 442.8 C842.3 445.9 844.7 449.2 848.4 452 C852.1 454.8 856.7 457.9 861.3 459.4 C865.9 460.9 870.6 461.6 876 461.2 C881.4 460.8 888.3 458.1 893.5 457.2 C898.7 456.3 902.5 455.9 907.3 455.7 C912.0 455.4 916.9 454.9 922 455.7 C927.1 456.5 932.8 458.8 937.7 460.3 C942.6 461.8 947.2 463.5 951.5 464.9 C955.8 466.3 959.2 468.6 963.4 468.6 C967.6 468.6 974.5 465.5 976.7 464.9" stroke="#f7e8b6" stroke-width="1.5" fill="none" stroke-linecap="round" stroke-linejoin="round"/>
<path d="M893.5 457.2 C893.6 459.1 894.9 464.9 894.4 468.6 C893.9 472.3 892.5 475.9 890.7 479.6 C888.9 483.3 885.9 487.3 883.4 490.7 C880.9 494.1 878.3 497.4 876 499.9 C873.7 502.3 872.4 502.7 869.6 505.4 C866.8 508.1 861.1 514.3 859.4 516.1" stroke="#f7e8b6" stroke-width="1.5" fill="none" stroke-linecap="round" stroke-linejoin="round"/>
<path d="M893.5 457.2 C894.9 458.8 899.8 463.0 901.8 466.7 C903.8 470.4 904.0 475.3 905.5 479.6 C907.0 483.9 908.9 488.2 911 492.5 C913.1 496.8 916.5 501.5 918.3 505.4 C920.1 509.3 921.4 514.3 922 516.1" stroke="#f7e8b6" stroke-width="1.5" fill="none" stroke-linecap="round" stroke-linejoin="round"/>
<path d="M831.8 450.2 C832.1 452.6 833.1 460.0 833.7 464.9 C834.3 469.8 834.6 474.7 835.5 479.6 C836.4 484.5 838.0 489.4 839.2 494.3 C840.4 499.2 842.0 505.5 842.9 509.1 C843.8 512.7 844.4 514.9 844.7 516.1" stroke="#f7e8b6" stroke-width="1.5" fill="none" stroke-linecap="round" stroke-linejoin="round"/>
<path d="M892.6 406 C892.8 407.8 893.2 413.0 893.5 417 C893.8 421.0 894.4 425.6 894.4 429.9 C894.4 434.2 893.6 438.2 893.5 442.8 C893.4 447.4 893.5 454.8 893.5 457.2" stroke="#f7e8b6" stroke-width="1.5" fill="none" stroke-linecap="round" stroke-linejoin="round"/>
<path d="M916.5 442.8 C917.4 441.3 920.1 437.3 922 433.6 C923.9 429.9 926.1 424.7 927.6 420.7 C929.1 416.7 930.6 411.5 931.2 409.7" stroke="#f7e8b6" stroke-width="1.5" fill="none" stroke-linecap="round" stroke-linejoin="round"/>
<path d="M951.5 464.9 C952.1 467.3 953.4 474.7 955.2 479.6 C957.0 484.5 960.0 489.4 962.5 494.3 C965.0 499.2 968.7 506.6 969.9 509.1" stroke="#f7e8b6" stroke-width="1.5" fill="none" stroke-linecap="round" stroke-linejoin="round"/>
<path d="M698.4 295 C697.5 297.6 694.7 306.4 692.8 310.4 C690.9 314.4 689.1 316.0 687.2 318.8 C685.3 321.6 682.5 325.8 681.6 327.2" stroke="#f7e8b6" stroke-width="1.5" fill="none" stroke-linecap="round" stroke-linejoin="round"/>
<path d="M709.6 288 C711.0 288.2 715.2 288.5 718 289.4 C720.8 290.3 724.8 291.5 726.4 293.6 C728.0 295.7 728.5 299.7 727.8 302 C727.1 304.3 724.3 306.9 722.2 307.6 C720.1 308.3 716.4 306.4 715.2 306.2" stroke="#f7e8b6" stroke-width="1.5" fill="none" stroke-linecap="round" stroke-linejoin="round"/>
<path d="M610.9 208.4 C611.7 210.2 614.4 216.0 615.5 219.4 C616.6 222.8 616.7 225.6 617.3 228.7 C617.9 231.8 617.6 235.4 619.1 237.9 C620.6 240.4 625.3 242.5 626.5 243.4" stroke="#f8d996" stroke-width="2" fill="none" stroke-linecap="round" stroke-linejoin="round"/>
<path d="M705.2 192.8 C705.1 194.8 703.7 201.2 704.3 204.7 C704.9 208.2 707.4 211.3 708.9 213.9 C710.4 216.5 712.9 217.6 713.5 220.4 C714.1 223.2 713.7 227.0 712.6 230.5 C711.5 234.0 708.5 237.5 707.1 241.5 C705.7 245.5 704.9 250.1 704.3 254.4 C703.7 258.7 703.5 262.7 703.4 267.3 C703.2 271.9 703.5 276.5 703.4 282 C703.2 287.5 702.6 297.1 702.5 300.1" stroke="#f8d996" stroke-width="2" fill="none" stroke-linecap="round" stroke-linejoin="round"/>
<path d="M769.7 192.8 C769.9 194.8 770.3 200.9 770.6 204.7 C770.9 208.5 771.6 212.4 771.5 215.8 C771.4 219.2 771.2 222.7 769.7 225 C768.2 227.3 764.6 228.2 762.3 229.6 C760.0 231.0 757.0 232.7 755.9 233.3" stroke="#f8d996" stroke-width="2" fill="none" stroke-linecap="round" stroke-linejoin="round"/>
<path d="M887.1 257.2 C886.8 258.9 886.1 263.8 885.2 267.3 C884.3 270.8 882.4 274.6 881.5 278.3 C880.6 282.0 880.2 285.8 879.7 289.4 C879.2 293.0 878.5 298.3 878.2 300.1" stroke="#f8d996" stroke-width="2" fill="none" stroke-linecap="round" stroke-linejoin="round"/>
<path d="M668.8 298 C669.0 299.8 669.8 305.0 669.8 309 C669.8 313.0 669.3 317.9 668.8 321.9 C668.3 325.9 667.0 329.9 667 333 C667.0 336.1 668.5 339.1 668.8 340.3" stroke="#f8d996" stroke-width="2" fill="none" stroke-linecap="round" stroke-linejoin="round"/>
<path d="M718.1 301.7 C718.1 304.1 718.2 310.9 718.1 316.4 C718.0 321.9 717.9 328.7 717.8 334.8 C717.6 340.9 717.2 348.9 717.2 353.2 C717.2 357.5 717.5 357.5 718.1 360.6 C718.7 363.7 720.0 367.6 720.9 371.6 C721.8 375.6 723.1 380.2 723.7 384.5 C724.3 388.8 724.3 393.5 724.6 397.4 C724.9 401.3 725.4 406.3 725.5 408.1" stroke="#f8d996" stroke-width="2" fill="none" stroke-linecap="round" stroke-linejoin="round"/>
<path d="M727.3 309 C728.5 310.5 731.9 314.5 734.7 318.2 C737.5 321.9 740.8 327.4 743.9 331.1 C747.0 334.8 750.0 337.5 753.1 340.3 C756.2 343.1 760.8 346.5 762.3 347.7" stroke="#f8d996" stroke-width="2" fill="none" stroke-linecap="round" stroke-linejoin="round"/>
<path d="M863.1 340.3 C865.2 340.3 872.3 340.9 876 340.3 C879.7 339.7 881.8 337.9 885.2 336.7 C888.6 335.5 892.6 334.4 896.3 333 C900.0 331.6 903.6 330.2 907.3 328.4 C911.0 326.5 914.6 323.9 918.3 321.9 C922.0 319.9 925.7 317.8 929.4 316.4 C933.1 315.0 936.7 314.2 940.4 313.6 C944.1 313.0 947.8 312.2 951.5 312.7 C955.2 313.2 958.3 315.2 962.5 316.4 C966.7 317.6 974.3 319.5 976.7 320.1" stroke="#f8d996" stroke-width="2" fill="none" stroke-linecap="round" stroke-linejoin="round"/>
<path d="M865.9 362.4 C867.9 363.0 874.1 364.7 877.9 366.1 C881.7 367.5 885.5 368.9 888.9 370.7 C892.3 372.5 895.6 375.1 898.1 377.1 C900.6 379.1 901.5 381.2 903.6 382.7 C905.8 384.2 907.9 385.1 911 386.3 C914.1 387.5 918.3 388.4 922 390 C925.7 391.6 929.4 393.5 933.1 395.6 C936.8 397.8 941.0 400.8 944.1 402.9 C947.2 405.0 950.3 407.2 951.5 408.1" stroke="#f8d996" stroke-width="2" fill="none" stroke-linecap="round" stroke-linejoin="round"/>
<path d="M876 298 C875.9 298.9 876.0 301.4 875.1 303.5 C874.2 305.6 871.9 308.4 870.5 310.9 C869.1 313.3 867.7 315.8 866.8 318.2 C865.9 320.6 866.2 323.1 865 325.6 C863.8 328.1 860.3 331.8 859.4 333" stroke="#f8d996" stroke-width="2" fill="none" stroke-linecap="round" stroke-linejoin="round"/>
<path d="M841 316.4 C842.5 316.2 846.8 315.2 850.2 315.5 C853.6 315.8 858.4 316.5 861.3 318.2 C864.2 319.9 866.3 322.8 867.7 325.6 C869.1 328.4 870.1 332.0 869.6 334.8 C869.1 337.6 867.0 341.0 865 342.2 C863.0 343.4 858.8 342.2 857.6 342.2" stroke="#f8d996" stroke-width="2" fill="none" stroke-linecap="round" stroke-linejoin="round"/>
<path d="M841 316.4 C840.1 317.6 836.7 321.0 835.5 323.8 C834.3 326.6 833.1 330.2 833.7 333 C834.3 335.8 836.8 338.5 839.2 340.3 C841.7 342.1 845.3 343.7 848.4 344 C851.5 344.3 856.1 342.5 857.6 342.2" stroke="#f8d996" stroke-width="2" fill="none" stroke-linecap="round" stroke-linejoin="round"/>
<path d="M609.9 406 C611.8 407.8 618.9 413.3 621 417 C623.1 420.7 623.4 424.4 622.8 428.1 C622.2 431.8 619.8 436.5 617.3 439.1 C614.8 441.7 611.8 443.1 608.1 443.7 C604.4 444.3 598.9 443.9 595.2 442.8 C591.5 441.7 588.0 440.1 586 437.3 C584.0 434.5 583.3 429.7 583.3 426.2 C583.3 422.7 585.5 417.8 586 416.1" stroke="#f8d996" stroke-width="2" fill="none" stroke-linecap="round" stroke-linejoin="round"/>
<path d="M600.7 422.6 C602.2 424.1 606.8 428.7 609.9 431.8 C613.0 434.9 616.3 437.9 619.1 441 C621.9 444.1 624.4 447.5 626.5 450.2 C628.6 452.9 629.2 456.1 632 457.2 C634.8 458.3 638.8 456.9 643.1 456.6 C647.4 456.4 652.9 455.9 657.8 455.7 C662.7 455.5 667.1 455.1 672.5 455.7 C677.9 456.3 687.1 458.8 690 459.4" stroke="#f8d996" stroke-width="2" fill="none" stroke-linecap="round" stroke-linejoin="round"/>
<path d="M541.8 431.8 C543.9 431.8 550.4 432.0 554.7 431.8 C559.0 431.6 562.8 431.7 567.6 430.8 C572.4 429.9 580.7 427.0 583.3 426.2" stroke="#f8d996" stroke-width="2" fill="none" stroke-linecap="round" stroke-linejoin="round"/>
<path d="M729.2 406 C729.4 408.4 730.1 415.8 730.1 420.7 C730.1 425.6 730.0 430.5 729.2 435.4 C728.4 440.3 726.7 445.9 725.5 450.2 C724.3 454.5 722.7 458.8 721.8 461.2 C720.9 463.6 720.3 464.3 720 464.9" stroke="#f8d996" stroke-width="2" fill="none" stroke-linecap="round" stroke-linejoin="round"/>
<path d="M810.2 433.6 C811.4 434.2 815.0 435.8 817.5 437.3 C820.0 438.8 822.4 441.6 824.9 442.8 C827.4 444.0 831.0 444.4 832.2 444.7" stroke="#f8d996" stroke-width="2" fill="none" stroke-linecap="round" stroke-linejoin="round"/>
<path d="M857.6 406 C859.1 407.5 863.7 411.8 866.8 415.2 C869.9 418.6 873.2 422.8 876 426.2 C878.8 429.6 880.9 431.7 883.4 435.4 C885.9 439.1 889.0 444.7 890.7 448.3 C892.4 451.9 893.0 455.7 893.5 457.2" stroke="#f8d996" stroke-width="2" fill="none" stroke-linecap="round" stroke-linejoin="round"/>
<path d="M620 292.9 C622.3 293.0 629.3 293.2 634 293.6 C638.7 294.0 643.8 294.6 648 295 C652.2 295.4 655.7 295.7 659.2 295.7 C662.7 295.7 665.7 295.4 669 295 C672.3 294.6 675.5 293.8 678.8 293.6 C682.1 293.4 685.3 293.4 688.6 293.6 C691.9 293.8 695.4 294.3 698.4 295 C701.4 295.7 703.5 296.9 706.8 297.8 C710.1 298.7 716.1 300.1 718 300.6" stroke="#f8d996" stroke-width="2" fill="none" stroke-linecap="round" stroke-linejoin="round"/>
<path d="M668.3 299.2 C670.0 300.1 675.2 302.7 678.8 304.8 C682.4 306.9 686.7 309.9 690 311.8 C693.3 313.7 695.6 314.4 698.4 316 C701.2 317.6 705.4 320.7 706.8 321.6" stroke="#f8d996" stroke-width="2" fill="none" stroke-linecap="round" stroke-linejoin="round"/>
<path d="M668.3 299.2 C668.4 302.0 669.4 310.9 669 316 C668.6 321.1 667.1 325.8 666.2 330 C665.3 334.2 663.9 339.3 663.4 341.2" stroke="#f8d996" stroke-width="2" fill="none" stroke-linecap="round" stroke-linejoin="round"/>
<path d="M600.7 192.8 C601.5 193.9 603.6 196.6 605.3 199.2 C607.0 201.8 610.0 205.3 610.9 208.4 C611.8 211.5 611.2 214.5 610.9 217.6 C610.6 220.7 609.6 223.4 609 226.8 C608.4 230.2 608.0 234.2 607.2 237.9 C606.4 241.6 605.2 245.5 604.4 248.9 C603.6 252.3 603.0 254.4 602.6 258.1 C602.2 261.8 602.2 267.0 601.7 271 C601.2 275.0 600.1 277.1 599.8 282 C599.5 286.9 599.8 297.1 599.8 300.1" stroke="#f7cd85" stroke-width="2.8" fill="none" stroke-linecap="round" stroke-linejoin="round"/>
<path d="M626.5 243.4 C627.4 243.7 629.9 243.7 632 245.2 C634.1 246.7 637.2 250.2 639.4 252.6 C641.5 255.0 642.8 257.1 644.9 259.9 C647.0 262.6 649.8 266.0 652.3 269.1 C654.8 272.2 657.1 274.9 659.6 278.3 C662.1 281.7 664.9 286.6 667 289.4 C669.1 292.2 670.4 293.1 672.5 294.9 C674.6 296.7 678.7 299.5 679.9 300.4" stroke="#f7cd85" stroke-width="2.8" fill="none" stroke-linecap="round" stroke-linejoin="round"/>
<path d="M541.8 288.5 C544.9 288.6 555.6 289.5 560.2 289.4 C564.8 289.2 566.0 288.1 569.4 287.6 C572.8 287.1 576.8 286.3 580.5 286.6 C584.2 286.9 588.1 288.5 591.5 289.4 C594.9 290.3 597.0 291.7 600.7 292.2 C604.4 292.7 609.3 292.0 613.6 292.2 C617.9 292.4 621.6 292.7 626.5 293.1 C631.4 293.6 637.9 294.3 643.1 294.9 C648.3 295.5 652.9 296.2 657.8 296.8 C662.7 297.4 667.1 298.0 672.5 298.6 C677.9 299.2 687.1 300.1 690 300.4" stroke="#f7cd85" stroke-width="2.8" fill="none" stroke-linecap="round" stroke-linejoin="round"/>
<path d="M755.9 233.3 C754.8 235.0 751.7 240.2 749.4 243.4 C747.1 246.6 743.9 249.2 742.1 252.6 C740.3 256.0 739.2 259.9 738.4 263.6 C737.6 267.3 738.1 271.0 737.5 274.7 C736.9 278.4 736.1 282.6 734.7 285.7 C733.3 288.8 730.4 290.7 729.2 293.1 C728.0 295.5 727.6 298.9 727.3 300.1" stroke="#f7cd85" stroke-width="2.8" fill="none" stroke-linecap="round" stroke-linejoin="round"/>
<path d="M933.1 193.7 C931.6 194.6 926.4 196.8 923.9 199.2 C921.4 201.6 919.8 205.0 918.3 208.4 C916.8 211.8 915.9 215.7 914.7 219.4 C913.5 223.1 912.9 227.1 911 230.5 C909.1 233.9 906.4 236.6 903.6 239.7 C900.8 242.8 897.1 246.0 894.4 248.9 C891.6 251.8 889.2 255.2 887.1 257.2 C885.0 259.2 884.3 260.0 881.5 260.9 C878.7 261.8 873.4 261.9 870.5 262.7 C867.6 263.5 866.2 263.5 864.1 265.5 C862.0 267.5 859.9 271.3 857.6 274.7 C855.3 278.1 852.7 282.0 850.2 285.7 C847.8 289.4 844.6 294.4 842.9 296.8 C841.2 299.2 840.6 299.6 840.1 300.1" stroke="#f7cd85" stroke-width="2.8" fill="none" stroke-linecap="round" stroke-linejoin="round"/>
<path d="M976.7 250.7 C975.9 252.5 973.3 258.1 971.7 261.8 C970.1 265.5 968.6 268.8 967.1 272.8 C965.6 276.8 963.9 281.1 962.5 285.7 C961.1 290.2 959.4 297.7 958.8 300.1" stroke="#f7cd85" stroke-width="2.8" fill="none" stroke-linecap="round" stroke-linejoin="round"/>
<path d="M600.7 298 C600.4 299.8 599.7 305.0 598.9 309 C598.1 313.0 596.9 317.6 596.1 321.9 C595.3 326.2 594.6 330.8 594.3 334.8 C594.0 338.8 594.1 341.9 594.3 345.9 C594.4 349.9 595.1 354.4 595.2 358.7 C595.4 363.0 595.3 367.3 595.2 371.6 C595.1 375.9 594.8 380.2 594.8 384.5 C594.8 388.8 594.8 393.5 595.2 397.4 C595.6 401.3 596.8 406.3 597.1 408.1" stroke="#f7cd85" stroke-width="2.8" fill="none" stroke-linecap="round" stroke-linejoin="round"/>
<path d="M541.8 351.4 C543.9 351.1 551.0 350.1 554.7 349.5 C558.4 348.9 560.2 348.6 563.9 347.7 C567.6 346.8 571.9 345.4 576.8 344 C581.7 342.6 587.9 341.4 593.4 339.4 C598.9 337.4 605.3 334.4 609.9 332.1 C614.5 329.8 617.6 327.6 621 325.6 C624.4 323.6 626.5 322.2 630.2 320.1 C633.9 318.0 639.1 315.1 643.1 312.7 C647.1 310.2 650.4 307.7 654.1 305.4 C657.8 303.1 663.4 300.0 665.2 298.9" stroke="#f7cd85" stroke-width="2.8" fill="none" stroke-linecap="round" stroke-linejoin="round"/>
<path d="M690 329.3 C688.3 329.9 683.4 331.2 679.9 333 C676.4 334.8 672.5 337.9 668.8 340.3 C665.1 342.8 661.5 345.6 657.8 347.7 C654.1 349.8 649.9 351.0 646.8 353.2 C643.7 355.4 641.9 357.8 639.4 360.6 C636.9 363.4 633.9 366.7 632 369.8 C630.1 372.9 629.2 375.9 628.3 379 C627.4 382.1 628.0 385.4 626.5 388.2 C625.0 391.0 621.2 393.2 619.1 395.6 C617.0 398.1 615.4 400.8 613.6 402.9 C611.8 405.0 609.0 407.2 608.1 408.1" stroke="#f7cd85" stroke-width="2.8" fill="none" stroke-linecap="round" stroke-linejoin="round"/>
<path d="M685 303.5 C688.1 303.4 697.9 302.9 703.4 302.6 C708.9 302.3 712.0 302.0 718.1 301.7 C724.2 301.4 731.9 301.1 740.2 300.8 C748.5 300.6 759.2 300.4 767.8 300.2 C776.4 300.0 785.7 299.6 791.8 299.8 C797.9 300.1 801.2 300.2 804.6 301.7 C808.0 303.2 809.9 306.6 812 309 C814.1 311.4 815.0 314.5 817.5 316.4 C820.0 318.2 823.8 319.2 826.7 320.1 C829.6 321.0 833.6 321.6 835 321.9" stroke="#f7cd85" stroke-width="2.8" fill="none" stroke-linecap="round" stroke-linejoin="round"/>
<path d="M958.8 298 C957.9 299.5 955.1 304.1 953.3 307.2 C951.5 310.3 949.6 313.0 947.8 316.4 C946.0 319.8 944.1 323.7 942.3 327.4 C940.5 331.1 938.5 335.1 936.8 338.5 C935.1 341.9 934.1 344.6 932.2 347.7 C930.4 350.8 928.3 353.8 925.7 356.9 C923.1 360.0 920.2 363.0 916.5 366.1 C912.8 369.2 907.6 372.2 903.6 375.3 C899.6 378.4 896.3 381.7 892.6 384.5 C888.9 387.3 884.9 389.6 881.5 391.9 C878.1 394.2 875.0 395.6 872.3 398.3 C869.5 401.0 866.2 406.5 865 408.1" stroke="#f7cd85" stroke-width="2.8" fill="none" stroke-linecap="round" stroke-linejoin="round"/>
<path d="M830 327.4 C831.5 328.6 836.1 332.8 839.2 334.8 C842.3 336.8 845.3 338.2 848.4 339.4 C851.5 340.6 855.0 339.9 857.6 342.2 C860.2 344.5 862.7 349.8 864.1 353.2 C865.5 356.6 865.5 358.7 865.9 362.4 C866.3 366.1 866.2 371.3 866.8 375.3 C867.4 379.3 868.4 382.9 869.6 386.3 C870.8 389.7 872.8 392.0 874.2 395.6 C875.6 399.2 877.3 406.0 877.9 408.1" stroke="#f7cd85" stroke-width="2.8" fill="none" stroke-linecap="round" stroke-linejoin="round"/>
<path d="M541.8 418 C544.6 417.9 553.2 417.4 558.4 417.4 C563.6 417.4 568.5 418.2 573.1 418 C577.7 417.8 581.7 417.2 586 416.1 C590.3 415.0 594.9 413.2 598.9 411.5 C602.9 409.8 608.1 406.9 609.9 406" stroke="#f7cd85" stroke-width="2.8" fill="none" stroke-linecap="round" stroke-linejoin="round"/>
<path d="M593.4 406 C593.1 407.8 592.1 413.3 591.5 417 C590.9 420.7 590.6 424.4 589.7 428.1 C588.8 431.8 587.2 435.4 586 439.1 C584.8 442.8 583.4 446.5 582.3 450.2 C581.2 453.9 580.4 456.9 579.6 461.2 C578.8 465.5 578.3 471.0 577.7 475.9 C577.1 480.8 576.4 485.8 575.9 490.7 C575.4 495.6 575.3 501.2 575 505.4 C574.7 509.6 574.2 514.3 574.1 516.1" stroke="#f7cd85" stroke-width="2.8" fill="none" stroke-linecap="round" stroke-linejoin="round"/>
<path d="M685 461.2 C687.5 460.9 695.1 459.5 699.7 459.4 C704.3 459.2 709.2 459.4 712.6 460.3 C716.0 461.2 717.5 462.9 720 464.9 C722.5 466.9 724.2 470.6 727.3 472.3 C730.4 474.0 735.0 473.8 738.4 475 C741.8 476.2 744.2 477.6 747.6 479.6 C751.0 481.6 754.9 485.3 758.6 487 C762.3 488.7 766.6 488.5 769.7 489.7 C772.8 490.9 774.9 492.3 777 494.3 C779.1 496.3 780.8 499.2 782.6 501.7 C784.5 504.2 787.2 507.9 788.1 509.1" stroke="#f7cd85" stroke-width="2.8" fill="none" stroke-linecap="round" stroke-linejoin="round"/>
<path d="M835 433.6 C834.2 436.1 832.1 443.4 830.4 448.3 C828.7 453.2 826.4 458.5 824.9 463.1 C823.4 467.7 822.4 471.6 821.2 475.9 C820.0 480.2 818.6 484.5 817.5 488.8 C816.4 493.1 815.4 497.1 814.8 501.7 C814.2 506.2 814.0 513.7 813.8 516.1" stroke="#f7cd85" stroke-width="2.8" fill="none" stroke-linecap="round" stroke-linejoin="round"/>
<path d="M866.8 406 C865.9 407.5 863.4 412.1 861.3 415.2 C859.1 418.3 856.7 421.3 853.9 424.4 C851.1 427.5 847.5 430.8 844.7 433.6 C842.0 436.4 839.5 438.2 837.4 441 C835.2 443.8 833.0 447.1 831.8 450.2 C830.6 453.3 830.3 457.9 830 459.4" stroke="#f7cd85" stroke-width="2.8" fill="none" stroke-linecap="round" stroke-linejoin="round"/>
<path d="M885.2 406 C885.8 407.5 887.0 412.4 888.9 415.2 C890.8 418.0 893.5 420.2 896.3 422.6 C899.1 425.1 903.0 427.4 905.5 429.9 C908.0 432.3 909.5 434.5 911 437.3 C912.5 440.1 912.9 443.1 914.7 446.5 C916.5 449.9 919.5 454.1 922 457.5 C924.5 460.9 927.4 463.0 929.4 466.7 C931.4 470.4 932.5 475.3 934 479.6 C935.5 483.9 937.5 488.2 938.6 492.5 C939.7 496.8 939.9 501.5 940.4 505.4 C940.9 509.3 941.2 514.3 941.4 516.1" stroke="#f7cd85" stroke-width="2.8" fill="none" stroke-linecap="round" stroke-linejoin="round"/>
<path d="M720.8 300.6 C719.9 301.5 717.1 303.9 715.2 306.2 C713.3 308.5 711.5 312.0 709.6 314.6 C707.7 317.2 706.2 319.6 704 321.6 C701.8 323.6 698.6 325.2 696.3 326.5 C694.0 327.8 691.0 328.8 690 329.3" stroke="#f7cd85" stroke-width="2.8" fill="none" stroke-linecap="round" stroke-linejoin="round"/>
<rect x="568.8" y="216.4" width="11.4" height="8" rx="2" fill="#fff" stroke="#555" stroke-width="0.7"/>
<text x="574.5" y="222.4" font-size="5.5" fill="#333" text-anchor="middle">58</text>
<rect x="600.8" y="289.5" width="13.6" height="8" rx="2" fill="#fff" stroke="#555" stroke-width="0.7"/>
<text x="607.6" y="295.5" font-size="5.5" fill="#333" text-anchor="middle">421</text>
<rect x="641.9" y="326.2" width="11.4" height="8" rx="2" fill="#fff" stroke="#555" stroke-width="0.7"/>
<text x="647.6" y="332.2" font-size="5.5" fill="#333" text-anchor="middle">64</text>
<rect x="691.6" y="344.7" width="11.4" height="8" rx="2" fill="#fff" stroke="#555" stroke-width="0.7"/>
<text x="697.3" y="350.7" font-size="5.5" fill="#333" text-anchor="middle">64</text>
<rect x="749.6" y="235.7" width="11.4" height="8" rx="2" fill="#fff" stroke="#555" stroke-width="0.7"/>
<text x="755.3" y="241.7" font-size="5.5" fill="#333" text-anchor="middle">29</text>
<rect x="804" y="215.8" width="11.4" height="8" rx="2" fill="#fff" stroke="#555" stroke-width="0.7"/>
<text x="809.7" y="221.8" font-size="5.5" fill="#333" text-anchor="middle">58</text>
<rect x="884" y="206.7" width="11.4" height="8" rx="2" fill="#fff" stroke="#555" stroke-width="0.7"/>
<text x="889.7" y="212.7" font-size="5.5" fill="#333" text-anchor="middle">58</text>
<rect x="871.3" y="296.4" width="9.2" height="8" rx="2" fill="#fff" stroke="#555" stroke-width="0.7"/>
<text x="875.9" y="302.4" font-size="5.5" fill="#333" text-anchor="middle">1</text>
<rect x="915.8" y="315.7" width="11.4" height="8" rx="2" fill="#fff" stroke="#555" stroke-width="0.7"/>
<text x="921.5" y="321.7" font-size="5.5" fill="#333" text-anchor="middle">64</text>
<rect x="908.6" y="336.4" width="13.6" height="8" rx="2" fill="#fff" stroke="#555" stroke-width="0.7"/>
<text x="915.4" y="342.4" font-size="5.5" fill="#333" text-anchor="middle">264</text>
<rect x="809" y="344.7" width="11.4" height="8" rx="2" fill="#fff" stroke="#555" stroke-width="0.7"/>
<text x="814.7" y="350.7" font-size="5.5" fill="#333" text-anchor="middle">64</text>
<rect x="538.7" y="363.4" width="13.6" height="8" rx="2" fill="#fff" stroke="#555" stroke-width="0.7"/>
<text x="545.5" y="369.4" font-size="5.5" fill="#333" text-anchor="middle">321</text>
<rect x="664" y="451.7" width="11.4" height="8" rx="2" fill="#fff" stroke="#555" stroke-width="0.7"/>
<text x="669.7" y="457.7" font-size="5.5" fill="#333" text-anchor="middle">74</text>
<rect x="687.5" y="455.9" width="11.4" height="8" rx="2" fill="#fff" stroke="#555" stroke-width="0.7"/>
<text x="693.2" y="461.9" font-size="5.5" fill="#333" text-anchor="middle">74</text>
<rect x="585.4" y="493.1" width="11.4" height="8" rx="2" fill="#fff" stroke="#555" stroke-width="0.7"/>
<text x="591.1" y="499.1" font-size="5.5" fill="#333" text-anchor="middle">21</text>
<rect x="705.4" y="508.9" width="11.4" height="8" rx="2" fill="#fff" stroke="#555" stroke-width="0.7"/>
<text x="711.1" y="514.9" font-size="5.5" fill="#333" text-anchor="middle">52</text>
<rect x="724.7" y="508.9" width="11.4" height="8" rx="2" fill="#fff" stroke="#555" stroke-width="0.7"/>
<text x="730.4" y="514.9" font-size="5.5" fill="#333" text-anchor="middle">15</text>
<rect x="789.6" y="378" width="11.4" height="8" rx="2" fill="#fff" stroke="#555" stroke-width="0.7"/>
<text x="795.3" y="384" font-size="5.5" fill="#333" text-anchor="middle">71</text>
<rect x="809.8" y="388.3" width="13.6" height="8" rx="2" fill="#fff" stroke="#555" stroke-width="0.7"/>
<text x="816.6" y="394.3" font-size="5.5" fill="#333" text-anchor="middle">421</text>
<rect x="876" y="432.4" width="13.6" height="8" rx="2" fill="#fff" stroke="#555" stroke-width="0.7"/>
<text x="882.8" y="438.4" font-size="5.5" fill="#333" text-anchor="middle">421</text>
<rect x="958.6" y="386.9" width="11.4" height="8" rx="2" fill="#fff" stroke="#555" stroke-width="0.7"/>
<text x="964.3" y="392.9" font-size="5.5" fill="#333" text-anchor="middle">13</text>
<path d="M596.5 255 h11.2 v3.5 q0 4 -5.6 5.5 q-5.6 -1.5 -5.6 -5.5 Z" fill="#3a6fc0"/>
<rect x="596.5" y="254.4" width="11.2" height="1.8" fill="#d9453d"/>
<text x="602.1" y="261.3" font-size="5.2" fill="#fff" text-anchor="middle" font-weight="bold">77</text>
<path d="M621.3 241.2 h11.2 v3.5 q0 4 -5.6 5.5 q-5.6 -1.5 -5.6 -5.5 Z" fill="#3a6fc0"/>
<rect x="621.3" y="240.6" width="11.2" height="1.8" fill="#d9453d"/>
<text x="626.9" y="247.5" font-size="5.2" fill="#fff" text-anchor="middle" font-weight="bold">74</text>
<path d="M679.3 295 h11.2 v3.5 q0 4 -5.6 5.5 q-5.6 -1.5 -5.6 -5.5 Z" fill="#3a6fc0"/>
<rect x="679.3" y="294.4" width="11.2" height="1.8" fill="#d9453d"/>
<text x="684.9" y="301.3" font-size="5.2" fill="#fff" text-anchor="middle" font-weight="bold">40</text>
<path d="M680.7 326.8 h11.2 v3.5 q0 4 -5.6 5.5 q-5.6 -1.5 -5.6 -5.5 Z" fill="#3a6fc0"/>
<rect x="680.7" y="326.2" width="11.2" height="1.8" fill="#d9453d"/>
<text x="686.3" y="333.1" font-size="5.2" fill="#fff" text-anchor="middle" font-weight="bold">85</text>
<path d="M557.9 344.7 h11.2 v3.5 q0 4 -5.6 5.5 q-5.6 -1.5 -5.6 -5.5 Z" fill="#3a6fc0"/>
<rect x="557.9" y="344.1" width="11.2" height="1.8" fill="#d9453d"/>
<text x="563.5" y="351" font-size="5.2" fill="#fff" text-anchor="middle" font-weight="bold">40</text>
<path d="M853.2 271.6 h11.2 v3.5 q0 4 -5.6 5.5 q-5.6 -1.5 -5.6 -5.5 Z" fill="#3a6fc0"/>
<rect x="853.2" y="271" width="11.2" height="1.8" fill="#d9453d"/>
<text x="858.8" y="277.9" font-size="5.2" fill="#fff" text-anchor="middle" font-weight="bold">85</text>
<path d="M808.2 313 h11.2 v3.5 q0 4 -5.6 5.5 q-5.6 -1.5 -5.6 -5.5 Z" fill="#3a6fc0"/>
<rect x="808.2" y="312.4" width="11.2" height="1.8" fill="#d9453d"/>
<text x="813.8" y="319.3" font-size="5.2" fill="#fff" text-anchor="middle" font-weight="bold">40</text>
<path d="M852.4 321.2 h12.8 v3.5 q0 4 -6.4 5.5 q-6.4 -1.5 -6.4 -5.5 Z" fill="#3a6fc0"/>
<rect x="852.4" y="320.6" width="12.8" height="1.8" fill="#d9453d"/>
<text x="858.8" y="327.5" font-size="5.2" fill="#fff" text-anchor="middle" font-weight="bold">540</text>
<path d="M953.7 282.1 h11.2 v3.5 q0 4 -5.6 5.5 q-5.6 -1.5 -5.6 -5.5 Z" fill="#3a6fc0"/>
<rect x="953.7" y="281.5" width="11.2" height="1.8" fill="#d9453d"/>
<text x="959.3" y="288.4" font-size="5.2" fill="#fff" text-anchor="middle" font-weight="bold">95</text>
<path d="M928.8 189.3 h11.2 v3.5 q0 4 -5.6 5.5 q-5.6 -1.5 -5.6 -5.5 Z" fill="#3a6fc0"/>
<rect x="928.8" y="188.7" width="11.2" height="1.8" fill="#d9453d"/>
<text x="934.4" y="195.6" font-size="5.2" fill="#fff" text-anchor="middle" font-weight="bold">85</text>
<path d="M591 393 h11.2 v3.5 q0 4 -5.6 5.5 q-5.6 -1.5 -5.6 -5.5 Z" fill="#3a6fc0"/>
<rect x="591" y="392.4" width="11.2" height="1.8" fill="#d9453d"/>
<text x="596.6" y="399.3" font-size="5.2" fill="#fff" text-anchor="middle" font-weight="bold">77</text>
<path d="M600.7 442.1 h12.8 v3.5 q0 4 -6.4 5.5 q-6.4 -1.5 -6.4 -5.5 Z" fill="#3a6fc0"/>
<rect x="600.7" y="441.5" width="12.8" height="1.8" fill="#d9453d"/>
<text x="607.1" y="448.4" font-size="5.2" fill="#fff" text-anchor="middle" font-weight="bold">485</text>
<path d="M713.8 368.9 h11.2 v3.5 q0 4 -5.6 5.5 q-5.6 -1.5 -5.6 -5.5 Z" fill="#3a6fc0"/>
<rect x="713.8" y="368.3" width="11.2" height="1.8" fill="#d9453d"/>
<text x="719.4" y="375.2" font-size="5.2" fill="#fff" text-anchor="middle" font-weight="bold">74</text>
<path d="M860.7 403.4 h11.2 v3.5 q0 4 -5.6 5.5 q-5.6 -1.5 -5.6 -5.5 Z" fill="#3a6fc0"/>
<rect x="860.7" y="402.8" width="11.2" height="1.8" fill="#d9453d"/>
<text x="866.3" y="409.7" font-size="5.2" fill="#fff" text-anchor="middle" font-weight="bold">95</text>
<path d="M902.1 430.5 h11.2 v3.5 q0 4 -5.6 5.5 q-5.6 -1.5 -5.6 -5.5 Z" fill="#3a6fc0"/>
<rect x="902.1" y="429.9" width="11.2" height="1.8" fill="#d9453d"/>
<text x="907.7" y="436.8" font-size="5.2" fill="#fff" text-anchor="middle" font-weight="bold">40</text>
<path d="M946.2 402.1 h11.2 v3.5 q0 4 -5.6 5.5 q-5.6 -1.5 -5.6 -5.5 Z" fill="#3a6fc0"/>
<rect x="946.2" y="401.5" width="11.2" height="1.8" fill="#d9453d"/>
<text x="951.8" y="408.4" font-size="5.2" fill="#fff" text-anchor="middle" font-weight="bold">42</text>
<path d="M783.4 504.2 h11.2 v3.5 q0 4 -5.6 5.5 q-5.6 -1.5 -5.6 -5.5 Z" fill="#3a6fc0"/>
<rect x="783.4" y="503.6" width="11.2" height="1.8" fill="#d9453d"/>
<text x="789" y="510.5" font-size="5.2" fill="#fff" text-anchor="middle" font-weight="bold">95</text>
<text x="588.3" y="211.075" font-size="6.5" fill="#666" text-anchor="middle" stroke="#fff" stroke-width="1.6" stroke-opacity="0.75" paint-order="stroke">Galax</text>
<text x="625.6" y="234.275" font-size="6.5" fill="#666" text-anchor="middle" stroke="#fff" stroke-width="1.6" stroke-opacity="0.75" paint-order="stroke">Mt Airy</text>
<text x="712.5" y="205.475" font-size="6.5" fill="#666" text-anchor="middle" stroke="#fff" stroke-width="1.6" stroke-opacity="0.75" paint-order="stroke">Martinsville</text>
<text x="559.3" y="286.075" font-size="6.5" fill="#666" text-anchor="middle" stroke="#fff" stroke-width="1.6" stroke-opacity="0.75" paint-order="stroke">Wilkesboro</text>
<text x="668.3" y="291.757" font-size="8.45" fill="#4a4a4a" text-anchor="middle" stroke="#fff" stroke-width="1.6" stroke-opacity="0.75" paint-order="stroke">Winston-Salem</text>
<text x="720.8" y="295.957" font-size="8.45" fill="#4a4a4a" text-anchor="middle" stroke="#fff" stroke-width="1.6" stroke-opacity="0.75" paint-order="stroke">Greensboro</text>
<text x="695.9" y="313.558" font-size="8.45" fill="#4a4a4a" text-anchor="middle" stroke="#fff" stroke-width="1.6" stroke-opacity="0.75" paint-order="stroke">High Point</text>
<text x="592.4" y="338.785" font-size="7.1" fill="#666" text-anchor="middle" stroke="#fff" stroke-width="1.6" stroke-opacity="0.75" paint-order="stroke">Statesville</text>
<text x="641.3" y="355.085" font-size="7.1" fill="#666" text-anchor="middle" stroke="#fff" stroke-width="1.6" stroke-opacity="0.75" paint-order="stroke">Salisbury</text>
<text x="539.4" y="345.475" font-size="6.5" fill="#666" text-anchor="middle" stroke="#fff" stroke-width="1.6" stroke-opacity="0.75" paint-order="stroke">Hickory</text>
<text x="827.1" y="204.675" font-size="6.5" fill="#666" text-anchor="middle" stroke="#fff" stroke-width="1.6" stroke-opacity="0.75" paint-order="stroke">South Boston</text>
<text x="767.7" y="220.825" font-size="7.5" fill="#5a5a5a" text-anchor="middle" stroke="#fff" stroke-width="1.6" stroke-opacity="0.75" paint-order="stroke">Danville</text>
<text x="917.9" y="211.075" font-size="6.5" fill="#666" text-anchor="middle" stroke="#fff" stroke-width="1.6" stroke-opacity="0.75" paint-order="stroke">South Hill</text>
<text x="969.2" y="233.675" font-size="6.5" fill="#666" text-anchor="middle" stroke="#fff" stroke-width="1.6" stroke-opacity="0.75" paint-order="stroke">Roan</text>
<text x="969.8" y="239.775" font-size="6.5" fill="#666" text-anchor="middle" stroke="#fff" stroke-width="1.6" stroke-opacity="0.75" paint-order="stroke">Rapi</text>
<text x="885.6" y="259.375" font-size="6.5" fill="#666" text-anchor="middle" stroke="#fff" stroke-width="1.6" stroke-opacity="0.75" paint-order="stroke">Henderson</text>
<text x="763.7" y="292.525" font-size="7.5" fill="#5a5a5a" text-anchor="middle" stroke="#fff" stroke-width="1.6" stroke-opacity="0.75" paint-order="stroke">Burlington</text>
<text x="827.1" y="306.957" font-size="8.45" fill="#4a4a4a" text-anchor="middle" stroke="#fff" stroke-width="1.6" stroke-opacity="0.75" paint-order="stroke">Durham</text>
<text x="858" y="338.457" font-size="8.45" fill="#4a4a4a" text-anchor="middle" stroke="#fff" stroke-width="1.6" stroke-opacity="0.75" paint-order="stroke">Raleigh</text>
<text x="956.5" y="316.025" font-size="7.5" fill="#5a5a5a" text-anchor="middle" stroke="#fff" stroke-width="1.6" stroke-opacity="0.75" paint-order="stroke">Rocky Mour</text>
<text x="971.2" y="327.475" font-size="6.5" fill="#666" text-anchor="middle" stroke="#fff" stroke-width="1.6" stroke-opacity="0.75" paint-order="stroke">Tarb</text>
<text x="943.5" y="347.225" font-size="7.5" fill="#5a5a5a" text-anchor="middle" stroke="#fff" stroke-width="1.6" stroke-opacity="0.75" paint-order="stroke">Wilson</text>
<text x="602.1" y="367.985" font-size="7.1" fill="#666" text-anchor="middle" stroke="#fff" stroke-width="1.6" stroke-opacity="0.75" paint-order="stroke">Mooresville</text>
<text x="719.4" y="360.785" font-size="7.1" fill="#666" text-anchor="middle" stroke="#fff" stroke-width="1.6" stroke-opacity="0.75" paint-order="stroke">Asheboro</text>
<text x="628.9" y="392.725" font-size="7.5" fill="#5a5a5a" text-anchor="middle" stroke="#fff" stroke-width="1.6" stroke-opacity="0.75" paint-order="stroke">Concord</text>
<text x="557.1" y="413.53" font-size="7.8" fill="#5a5a5a" text-anchor="middle" stroke="#fff" stroke-width="1.6" stroke-opacity="0.75" paint-order="stroke">Gastonia</text>
<text x="598" y="417.468" font-size="9.05" fill="#3a3a3a" text-anchor="middle" stroke="#fff" stroke-width="1.6" stroke-opacity="0.75" paint-order="stroke" font-weight="bold">Charlotte</text>
<text x="613.1" y="435.83" font-size="7.8" fill="#5a5a5a" text-anchor="middle" stroke="#fff" stroke-width="1.6" stroke-opacity="0.75" paint-order="stroke">Matthews</text>
<text x="575.9" y="462.17" font-size="8.2" fill="#5a5a5a" text-anchor="middle" stroke="#fff" stroke-width="1.6" stroke-opacity="0.75" paint-order="stroke">Rock Hill</text>
<text x="701.8" y="401.01" font-size="8.6" fill="#7fae6e" text-anchor="middle" stroke="#fff" stroke-width="1.6" stroke-opacity="0.75" paint-order="stroke" font-style="italic">Uwharrie</text>
<text x="701" y="409.61" font-size="8.6" fill="#7fae6e" text-anchor="middle" stroke="#fff" stroke-width="1.6" stroke-opacity="0.75" paint-order="stroke" font-style="italic">National Forest</text>
<text x="723.5" y="461.375" font-size="6.5" fill="#666" text-anchor="middle" stroke="#fff" stroke-width="1.6" stroke-opacity="0.75" paint-order="stroke">Rockingham</text>
<text x="831.2" y="358.675" font-size="6.5" fill="#666" text-anchor="middle" stroke="#fff" stroke-width="1.6" stroke-opacity="0.75" paint-order="stroke">Apex</text>
<text x="933.9" y="396.225" font-size="7.5" fill="#5a5a5a" text-anchor="middle" stroke="#fff" stroke-width="1.6" stroke-opacity="0.75" paint-order="stroke">Goldsboro</text>
<text x="974.5" y="413.875" font-size="6.5" fill="#666" text-anchor="middle" stroke="#fff" stroke-width="1.6" stroke-opacity="0.75" paint-order="stroke">Ki</text>
<text x="760.8" y="424.075" font-size="6.5" fill="#666" text-anchor="middle" stroke="#fff" stroke-width="1.6" stroke-opacity="0.75" paint-order="stroke">Pinehurst</text>
<text x="768.6" y="437.575" font-size="6.5" fill="#666" text-anchor="middle" stroke="#fff" stroke-width="1.6" stroke-opacity="0.75" paint-order="stroke">Southern Pines</text>
<text x="830.4" y="443.558" font-size="8.45" fill="#4a4a4a" text-anchor="middle" stroke="#fff" stroke-width="1.6" stroke-opacity="0.75" paint-order="stroke">Fayetteville</text>
<text x="895.2" y="452.475" font-size="6.5" fill="#666" text-anchor="middle" stroke="#fff" stroke-width="1.6" stroke-opacity="0.75" paint-order="stroke">Clinton</text>
<text x="823.5" y="466.875" font-size="6.5" fill="#666" text-anchor="middle" stroke="#fff" stroke-width="1.6" stroke-opacity="0.75" paint-order="stroke">Hope Mills</text>
<text x="760.6" y="485.575" font-size="6.5" fill="#666" text-anchor="middle" stroke="#fff" stroke-width="1.6" stroke-opacity="0.75" paint-order="stroke">Laurinburg</text>
<text x="933.9" y="489.775" font-size="6.5" fill="#666" text-anchor="middle" stroke="#fff" stroke-width="1.6" stroke-opacity="0.75" paint-order="stroke">Wallace</text>
<text x="813.8" y="507.175" font-size="6.5" fill="#666" text-anchor="middle" stroke="#fff" stroke-width="1.6" stroke-opacity="0.75" paint-order="stroke">Lumberton</text>
<text x="863.5" y="505.475" font-size="6.5" fill="#666" text-anchor="middle" stroke="#fff" stroke-width="1.6" stroke-opacity="0.75" paint-order="stroke">Elizabethtown</text>
<circle cx="859.1" cy="324" r="2.05" fill="#000"/>
<circle cx="811.1" cy="314.8" r="2.05" fill="#000"/>
<circle cx="622.8" cy="254.9" r="2.05" fill="#000"/>
<circle cx="605.4" cy="263.1" r="2.05" fill="#000"/>
<circle cx="644.9" cy="259.8" r="2.05" fill="#000"/>
<circle cx="657.3" cy="262.6" r="2.05" fill="#000"/>
<circle cx="675.2" cy="263.1" r="2.05" fill="#000"/>
<circle cx="661.4" cy="275.6" r="2.05" fill="#000"/>
<circle cx="657.3" cy="283.3" r="2.05" fill="#000"/>
<circle cx="559.9" cy="288.8" r="2.05" fill="#000"/>
<circle cx="644.9" cy="297.1" r="2.05" fill="#000"/>
<circle cx="658.7" cy="295.7" r="2.05" fill="#000"/>
<circle cx="665.6" cy="297.6" r="2.05" fill="#000"/>
<circle cx="668.3" cy="295.4" r="2.05" fill="#000"/>
<circle cx="676.6" cy="292.7" r="2.05" fill="#000"/>
<circle cx="689" cy="293.5" r="2.05" fill="#000"/>
<circle cx="696.8" cy="295.4" r="2.05" fill="#000"/>
<circle cx="701.5" cy="294.3" r="2.05" fill="#000"/>
<circle cx="709.7" cy="292.7" r="2.05" fill="#000"/>
<circle cx="719.4" cy="293.5" r="2.05" fill="#000"/>
<circle cx="727.7" cy="293" r="2.05" fill="#000"/>
<circle cx="745.6" cy="290.7" r="2.05" fill="#000"/>
<circle cx="712.5" cy="276.4" r="2.05" fill="#000"/>
<circle cx="724.4" cy="238.9" r="2.05" fill="#000"/>
<circle cx="728.2" cy="235.5" r="2.05" fill="#000"/>
<circle cx="653.2" cy="308.7" r="2.05" fill="#000"/>
<circle cx="672.5" cy="305.9" r="2.05" fill="#000"/>
<circle cx="676.6" cy="309.5" r="2.05" fill="#000"/>
<circle cx="691.8" cy="307.3" r="2.05" fill="#000"/>
<circle cx="712.5" cy="308.7" r="2.05" fill="#000"/>
<circle cx="718" cy="301" r="2.05" fill="#000"/>
<circle cx="721.6" cy="299.6" r="2.05" fill="#000"/>
<circle cx="732.4" cy="310.9" r="2.05" fill="#000"/>
<circle cx="755.3" cy="310.9" r="2.05" fill="#000"/>
<circle cx="692.4" cy="316.4" r="2.05" fill="#000"/>
<circle cx="697.9" cy="316.4" r="2.05" fill="#000"/>
<circle cx="555.2" cy="321.7" r="2.05" fill="#000"/>
<circle cx="591.1" cy="326.6" r="2.05" fill="#000"/>
<circle cx="629.7" cy="324.7" r="2.05" fill="#000"/>
<circle cx="631.1" cy="325.2" r="2.05" fill="#000"/>
<circle cx="658.1" cy="328" r="2.05" fill="#000"/>
<circle cx="750.3" cy="326.6" r="2.05" fill="#000"/>
<circle cx="613.1" cy="344" r="2.05" fill="#000"/>
<circle cx="553.8" cy="347.3" r="2.05" fill="#000"/>
<circle cx="643.5" cy="351.5" r="2.05" fill="#000"/>
<circle cx="674.4" cy="348.2" r="2.05" fill="#000"/>
<circle cx="724.4" cy="348.2" r="2.05" fill="#000"/>
<circle cx="817.1" cy="209.3" r="2.05" fill="#000"/>
<circle cx="762.8" cy="216.2" r="2.05" fill="#000"/>
<circle cx="966.5" cy="247.1" r="2.05" fill="#000"/>
<circle cx="857.2" cy="259.6" r="2.05" fill="#000"/>
<circle cx="885.6" cy="262.3" r="2.05" fill="#000"/>
<circle cx="784.3" cy="289.9" r="2.05" fill="#000"/>
<circle cx="829" cy="288" r="2.05" fill="#000"/>
<circle cx="827.1" cy="296.3" r="2.05" fill="#000"/>
<circle cx="834.5" cy="304.5" r="2.05" fill="#000"/>
<circle cx="792.6" cy="300.4" r="2.05" fill="#000"/>
<circle cx="802.8" cy="302.3" r="2.05" fill="#000"/>
<circle cx="806.4" cy="299.6" r="2.05" fill="#000"/>
<circle cx="908.2" cy="296.8" r="2.05" fill="#000"/>
<circle cx="964.3" cy="297.6" r="2.05" fill="#000"/>
<circle cx="827.1" cy="310.9" r="2.05" fill="#000"/>
<circle cx="819.3" cy="317.5" r="2.05" fill="#000"/>
<circle cx="775.2" cy="315" r="2.05" fill="#000"/>
<circle cx="796.4" cy="323" r="2.05" fill="#000"/>
<circle cx="805.5" cy="323" r="2.05" fill="#000"/>
<circle cx="808.3" cy="323.3" r="2.05" fill="#000"/>
<circle cx="824" cy="325.8" r="2.05" fill="#000"/>
<circle cx="811.1" cy="332.1" r="2.05" fill="#000"/>
<circle cx="835.1" cy="330.8" r="2.05" fill="#000"/>
<circle cx="838.7" cy="317.5" r="2.05" fill="#000"/>
<circle cx="848.3" cy="319.7" r="2.05" fill="#000"/>
<circle cx="844.7" cy="326.6" r="2.05" fill="#000"/>
<circle cx="851.1" cy="332.1" r="2.05" fill="#000"/>
<circle cx="858.8" cy="332.7" r="2.05" fill="#000"/>
<circle cx="855.2" cy="336.3" r="2.05" fill="#000"/>
<circle cx="853.8" cy="339" r="2.05" fill="#000"/>
<circle cx="856.6" cy="341.3" r="2.05" fill="#000"/>
<circle cx="858" cy="343.2" r="2.05" fill="#000"/>
<circle cx="859.4" cy="340.4" r="2.05" fill="#000"/>
<circle cx="838.7" cy="339" r="2.05" fill="#000"/>
<circle cx="841.4" cy="341.3" r="2.05" fill="#000"/>
<circle cx="824" cy="341.8" r="2.05" fill="#000"/>
<circle cx="829" cy="340.4" r="2.05" fill="#000"/>
<circle cx="866.3" cy="317.5" r="2.05" fill="#000"/>
<circle cx="868.5" cy="313.4" r="2.05" fill="#000"/>
<circle cx="881.4" cy="310.6" r="2.05" fill="#000"/>
<circle cx="880.1" cy="321.9" r="2.05" fill="#000"/>
<circle cx="869.9" cy="328.6" r="2.05" fill="#000"/>
<circle cx="877.3" cy="340.4" r="2.05" fill="#000"/>
<circle cx="887" cy="341.3" r="2.05" fill="#000"/>
<circle cx="896.1" cy="338.2" r="2.05" fill="#000"/>
<circle cx="921.5" cy="318.3" r="2.05" fill="#000"/>
<circle cx="921.5" cy="339" r="2.05" fill="#000"/>
<circle cx="934.4" cy="341.3" r="2.05" fill="#000"/>
<circle cx="948.5" cy="324.4" r="2.05" fill="#000"/>
<circle cx="950.4" cy="311.4" r="2.05" fill="#000"/>
<circle cx="964.8" cy="321.9" r="2.05" fill="#000"/>
<circle cx="789" cy="346.5" r="2.05" fill="#000"/>
<circle cx="764.1" cy="350.9" r="2.05" fill="#000"/>
<circle cx="829" cy="350.1" r="2.05" fill="#000"/>
<circle cx="841.4" cy="346.5" r="2.05" fill="#000"/>
<circle cx="848.3" cy="347.3" r="2.05" fill="#000"/>
<circle cx="870.4" cy="347.9" r="2.05" fill="#000"/>
<circle cx="856.6" cy="355.1" r="2.05" fill="#000"/>
<circle cx="551" cy="363.3" r="2.05" fill="#000"/>
<circle cx="591.9" cy="372.9" r="2.05" fill="#000"/>
<circle cx="601.3" cy="370.2" r="2.05" fill="#000"/>
<circle cx="606.2" cy="369.6" r="2.05" fill="#000"/>
<circle cx="629.7" cy="355" r="2.05" fill="#000"/>
<circle cx="645.4" cy="366.6" r="2.05" fill="#000"/>
<circle cx="683.3" cy="363.3" r="2.05" fill="#000"/>
<circle cx="715.8" cy="360.5" r="2.05" fill="#000"/>
<circle cx="643" cy="381.2" r="2.05" fill="#000"/>
<circle cx="549.1" cy="386.2" r="2.05" fill="#000"/>
<circle cx="554.4" cy="397" r="2.05" fill="#000"/>
<circle cx="596.6" cy="397" r="2.05" fill="#000"/>
<circle cx="617.3" cy="394.5" r="2.05" fill="#000"/>
<circle cx="635.5" cy="401.9" r="2.05" fill="#000"/>
<circle cx="702" cy="392.8" r="2.05" fill="#000"/>
<circle cx="720.8" cy="392.3" r="2.05" fill="#000"/>
<circle cx="557.4" cy="404.7" r="2.05" fill="#000"/>
<circle cx="575.9" cy="408.3" r="2.05" fill="#000"/>
<circle cx="725.5" cy="405.5" r="2.05" fill="#000"/>
<circle cx="560.7" cy="417.1" r="2.05" fill="#000"/>
<circle cx="603.5" cy="406.6" r="2.05" fill="#000"/>
<circle cx="609.6" cy="408" r="2.05" fill="#000"/>
<circle cx="591.1" cy="411.6" r="2.05" fill="#000"/>
<circle cx="611.2" cy="413" r="2.05" fill="#000"/>
<circle cx="620.6" cy="412.1" r="2.05" fill="#000"/>
<circle cx="615.1" cy="418.5" r="2.05" fill="#000"/>
<circle cx="550.2" cy="422.1" r="2.05" fill="#000"/>
<circle cx="562.6" cy="425.4" r="2.05" fill="#000"/>
<circle cx="573.9" cy="423.2" r="2.05" fill="#000"/>
<circle cx="589.7" cy="421.8" r="2.05" fill="#000"/>
<circle cx="596.6" cy="422.6" r="2.05" fill="#000"/>
<circle cx="598.5" cy="421.2" r="2.05" fill="#000"/>
<circle cx="604" cy="423.2" r="2.05" fill="#000"/>
<circle cx="596" cy="425.4" r="2.05" fill="#000"/>
<circle cx="599.3" cy="427.3" r="2.05" fill="#000"/>
<circle cx="608.5" cy="428.1" r="2.05" fill="#000"/>
<circle cx="603.5" cy="430.1" r="2.05" fill="#000"/>
<circle cx="589.1" cy="430.4" r="2.05" fill="#000"/>
<circle cx="622" cy="428.7" r="2.05" fill="#000"/>
<circle cx="617.3" cy="432.3" r="2.05" fill="#000"/>
<circle cx="577.8" cy="435.6" r="2.05" fill="#000"/>
<circle cx="586.1" cy="437" r="2.05" fill="#000"/>
<circle cx="596" cy="436.4" r="2.05" fill="#000"/>
<circle cx="599.3" cy="439.2" r="2.05" fill="#000"/>
<circle cx="607.1" cy="439.2" r="2.05" fill="#000"/>
<circle cx="613.1" cy="439.7" r="2.05" fill="#000"/>
<circle cx="625.6" cy="438.4" r="2.05" fill="#000"/>
<circle cx="553.8" cy="444.2" r="2.05" fill="#000"/>
<circle cx="580.6" cy="448" r="2.05" fill="#000"/>
<circle cx="600.2" cy="446.9" r="2.05" fill="#000"/>
<circle cx="631.9" cy="457.1" r="2.05" fill="#000"/>
<circle cx="696.8" cy="424" r="2.05" fill="#000"/>
<circle cx="719.7" cy="417.7" r="2.05" fill="#000"/>
<circle cx="752" cy="418.5" r="2.05" fill="#000"/>
<circle cx="724.4" cy="464.9" r="2.05" fill="#000"/>
<circle cx="707" cy="502.7" r="2.05" fill="#000"/>
<circle cx="731.8" cy="508.2" r="2.05" fill="#000"/>
<circle cx="837.3" cy="357.8" r="2.05" fill="#000"/>
<circle cx="855.2" cy="356.4" r="2.05" fill="#000"/>
<circle cx="864.9" cy="361.9" r="2.05" fill="#000"/>
<circle cx="879.2" cy="360.5" r="2.05" fill="#000"/>
<circle cx="882" cy="364.7" r="2.05" fill="#000"/>
<circle cx="915.9" cy="366.9" r="2.05" fill="#000"/>
<circle cx="930.6" cy="361.9" r="2.05" fill="#000"/>
<circle cx="943.5" cy="357.2" r="2.05" fill="#000"/>
<circle cx="967.6" cy="370.2" r="2.05" fill="#000"/>
<circle cx="829.8" cy="367.4" r="2.05" fill="#000"/>
<circle cx="835.1" cy="375.7" r="2.05" fill="#000"/>
<circle cx="791.2" cy="380.7" r="2.05" fill="#000"/>
<circle cx="793.9" cy="386.2" r="2.05" fill="#000"/>
<circle cx="853.3" cy="384.8" r="2.05" fill="#000"/>
<circle cx="856.1" cy="394.5" r="2.05" fill="#000"/>
<circle cx="846.9" cy="395.6" r="2.05" fill="#000"/>
<circle cx="874" cy="395" r="2.05" fill="#000"/>
<circle cx="888.9" cy="396.4" r="2.05" fill="#000"/>
<circle cx="892.5" cy="384.8" r="2.05" fill="#000"/>
<circle cx="970.3" cy="390.9" r="2.05" fill="#000"/>
<circle cx="798.6" cy="401.9" r="2.05" fill="#000"/>
<circle cx="830.4" cy="398.6" r="2.05" fill="#000"/>
<circle cx="923.7" cy="401.9" r="2.05" fill="#000"/>
<circle cx="944.4" cy="401.9" r="2.05" fill="#000"/>
<circle cx="763.3" cy="403.9" r="2.05" fill="#000"/>
<circle cx="832.3" cy="409.4" r="2.05" fill="#000"/>
<circle cx="793.9" cy="413.5" r="2.05" fill="#000"/>
<circle cx="869" cy="414.9" r="2.05" fill="#000"/>
<circle cx="931.1" cy="413.5" r="2.05" fill="#000"/>
<circle cx="820.2" cy="422.1" r="2.05" fill="#000"/>
<circle cx="761.4" cy="427.6" r="2.05" fill="#000"/>
<circle cx="770.2" cy="429.5" r="2.05" fill="#000"/>
<circle cx="818" cy="430.1" r="2.05" fill="#000"/>
<circle cx="827.1" cy="430.4" r="2.05" fill="#000"/>
<circle cx="816.6" cy="433.7" r="2.05" fill="#000"/>
<circle cx="925.6" cy="430.9" r="2.05" fill="#000"/>
<circle cx="971.7" cy="437" r="2.05" fill="#000"/>
<circle cx="823.5" cy="443.3" r="2.05" fill="#000"/>
<circle cx="813.3" cy="446.9" r="2.05" fill="#000"/>
<circle cx="829.8" cy="447.5" r="2.05" fill="#000"/>
<circle cx="815.2" cy="451.6" r="2.05" fill="#000"/>
<circle cx="787.6" cy="456.6" r="2.05" fill="#000"/>
<circle cx="893.3" cy="457.1" r="2.05" fill="#000"/>
<circle cx="937.5" cy="459.9" r="2.05" fill="#000"/>
<circle cx="825.7" cy="465.4" r="2.05" fill="#000"/>
<circle cx="835.9" cy="464.6" r="2.05" fill="#000"/>
<circle cx="963.7" cy="468.7" r="2.05" fill="#000"/>
<circle cx="869.6" cy="500.5" r="2.05" fill="#000"/>
<circle cx="818" cy="513.2" r="2.05" fill="#000"/>
<rect x="790" y="507.5" width="187" height="8.5" fill="#f6f5f1" opacity="0.75"/>
<text x="792" y="514.6" font-size="6.4" fill="#555" textLength="70.5" lengthAdjust="spacingAndGlyphs">Map data ©2017 Google</text>
<text x="872" y="514.6" font-size="6.4" fill="#555" textLength="38" lengthAdjust="spacingAndGlyphs">Terms of Use</text>
<text x="918.5" y="514.6" font-size="6.4" fill="#555" textLength="53.5" lengthAdjust="spacingAndGlyphs">Report a map error</text>
<text x="545" y="511.9" font-size="13.8" font-weight="normal" stroke="#fff" stroke-width="1.5" paint-order="stroke" letter-spacing="-0.3" textLength="41" lengthAdjust="spacingAndGlyphs"><tspan fill="#4285f4">G</tspan><tspan fill="#ea4335">o</tspan><tspan fill="#fbbc05">o</tspan><tspan fill="#4285f4">g</tspan><tspan fill="#34a853">l</tspan><tspan fill="#ea4335">e</tspan></text>
<rect x="548.5" y="199.5" width="18" height="35" rx="1" fill="#fff"/>
<path d="M553 216.8 h9" stroke="#e6e6e6" stroke-width="0.6"/>
<path d="M554.3 208 h6.6 M557.6 204.7 v6.6 M554.3 225.9 h6.6" stroke="#555" stroke-width="1.5" fill="none"/>
</svg>
<div class="abs" style="left:542px;top:524px;width:428px;height:54px;background:#fafbfc"></div>
<div class="abs" style="left:542px;top:545.5px;width:428px;height:1px;background:#eef0f3"></div>
<div class="abs" style="left:628px;top:524px;width:1px;height:22px;background:#eef0f3"></div>
<div class="abs" style="left:735px;top:524px;width:1px;height:22px;background:#eef0f3"></div>
<div class="abs th" style="left:542px;width:71px;background:none">View</div>
<div class="abs th" style="left:629px;width:106px;background:none">Responses</div>
<div class="abs th" style="left:736px;width:233px;background:none">Project</div>
<svg class="abs" style="left:589.6px;top:530px" width="12" height="10" viewBox="0 0 12 10"><ellipse cx="6" cy="5" rx="4.6" ry="2.8" fill="none" stroke="#aaa" stroke-width="0.9"/><circle cx="6" cy="5" r="1.4" fill="#aaa"/><path d="M8.5 0.8 L3.5 9.2" stroke="#aaa" stroke-width="0.9"/></svg>
<svg class="abs" style="left:578.6px;top:555.6px" width="12" height="10" viewBox="0 0 12 10"><ellipse cx="6" cy="5" rx="4.6" ry="2.8" fill="none" stroke="#aaa" stroke-width="0.9"/><circle cx="6" cy="5" r="1.4" fill="#aaa"/><path d="M8.5 0.8 L3.5 9.2" stroke="#aaa" stroke-width="0.9"/></svg>
<div class="abs" style="left:663.5px;top:551.6px;width:36px;height:21px;background:#000;border-radius:4px;color:#fff;font-weight:bold;font-size:10px;text-align:center;line-height:21px">20472</div>
<div class="abs" style="left:792.5px;top:552.8px;font-size:8.85px;font-weight:bold;color:#666;white-space:nowrap">U-2719 I-440 Walnut to Wade</div>

<div class="abs" style="left:920.5px;top:560.3px;width:69px;height:30px;border-radius:15px;background:#2e90cd;box-shadow:0 1px 3px rgba(0,0,0,0.15)"></div>
<svg class="abs" style="left:933px;top:568px" width="14" height="14" viewBox="0 0 14 14"><circle cx="7" cy="7" r="5.6" fill="none" stroke="#fff" stroke-width="1.2"/><text x="7" y="10" font-size="8.5" font-weight="bold" fill="#fff" text-anchor="middle">?</text></svg>
<div class="abs" style="left:952.5px;top:569px;font-size:10.5px;font-weight:bold;color:#fff">Help</div>
<div class="abs" style="left:45px;top:588px;width:955px;height:9px;background:linear-gradient(to bottom,rgba(0,0,0,0),rgba(0,0,0,0.07))"></div>
<div class="abs" style="left:45px;top:596.6px;width:955px;height:1.4px;background:#6c6f76"></div>
</body>
</html>
